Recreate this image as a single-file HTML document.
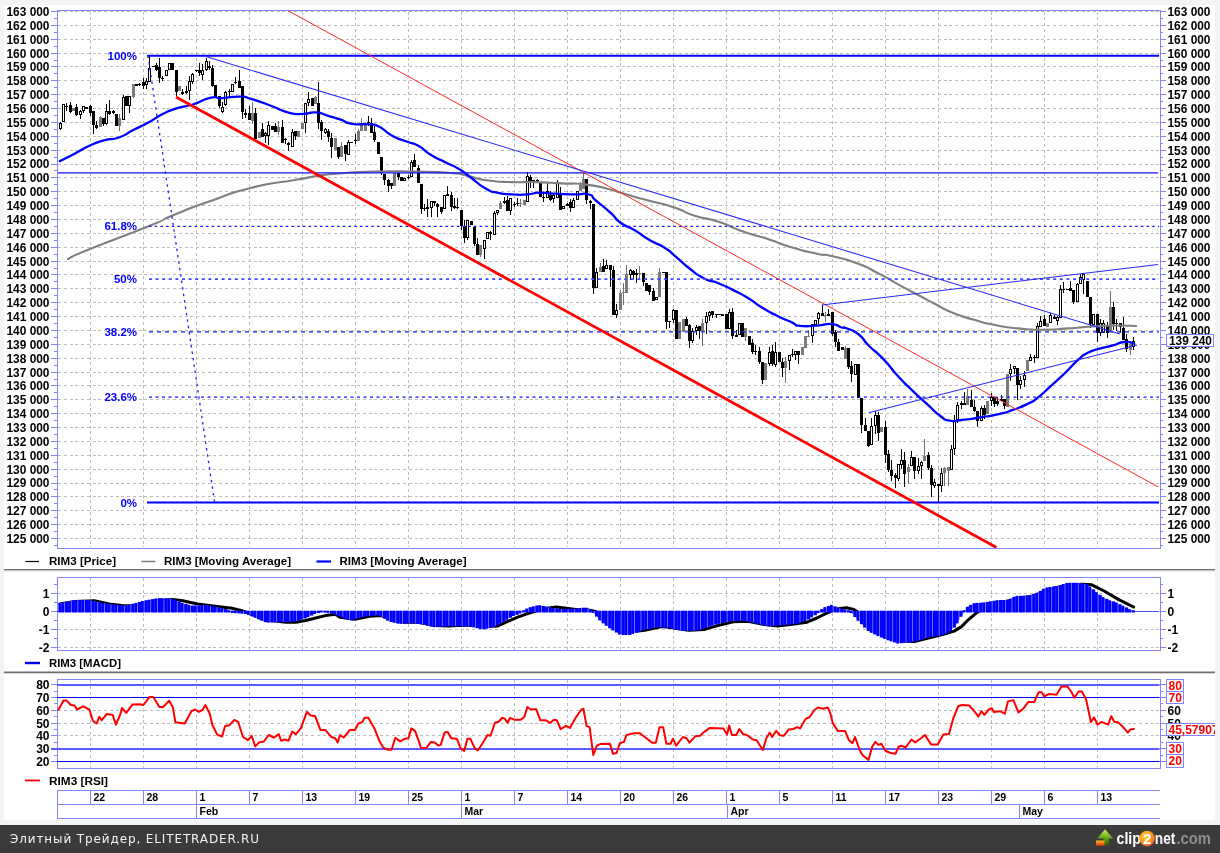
<!DOCTYPE html>
<html><head><meta charset="utf-8"><title>RIM3 chart</title><style>html,body{margin:0;padding:0;background:#f4f4f4;}body{width:1220px;height:853px;overflow:hidden}</style></head><body>
<svg width="1220" height="853" viewBox="0 0 1220 853" style="display:block">
<rect x="0" y="0" width="1220" height="853" fill="#f4f4f4"/>
<rect x="4" y="5" width="1211" height="815" fill="#ffffff"/>
<g shape-rendering="crispEdges" stroke="#bebebe" stroke-width="1" stroke-dasharray="3 2.75" fill="none">
<path d="M58 538.5H1159.5"/>
<path d="M58 524.5H1159.5"/>
<path d="M58 510.5H1159.5"/>
<path d="M58 496.5H1159.5"/>
<path d="M58 483.5H1159.5"/>
<path d="M58 469.5H1159.5"/>
<path d="M58 455.5H1159.5"/>
<path d="M58 441.5H1159.5"/>
<path d="M58 427.5H1159.5"/>
<path d="M58 413.5H1159.5"/>
<path d="M58 399.5H1159.5"/>
<path d="M58 385.5H1159.5"/>
<path d="M58 372.5H1159.5"/>
<path d="M58 358.5H1159.5"/>
<path d="M58 344.5H1159.5"/>
<path d="M58 330.5H1159.5"/>
<path d="M58 316.5H1159.5"/>
<path d="M58 302.5H1159.5"/>
<path d="M58 288.5H1159.5"/>
<path d="M58 274.5H1159.5"/>
<path d="M58 261.5H1159.5"/>
<path d="M58 247.5H1159.5"/>
<path d="M58 233.5H1159.5"/>
<path d="M58 219.5H1159.5"/>
<path d="M58 205.5H1159.5"/>
<path d="M58 191.5H1159.5"/>
<path d="M58 177.5H1159.5"/>
<path d="M58 164.5H1159.5"/>
<path d="M58 150.5H1159.5"/>
<path d="M58 136.5H1159.5"/>
<path d="M58 122.5H1159.5"/>
<path d="M58 108.5H1159.5"/>
<path d="M58 94.5H1159.5"/>
<path d="M58 80.5H1159.5"/>
<path d="M58 66.5H1159.5"/>
<path d="M58 53.5H1159.5"/>
<path d="M58 39.5H1159.5"/>
<path d="M58 25.5H1159.5"/>
<path d="M58 11.5H1159.5"/>
<path d="M90.5 11.66V547"/>
<path d="M90.5 578V650"/>
<path d="M90.5 680V768"/>
<path d="M143.5 11.66V547"/>
<path d="M143.5 578V650"/>
<path d="M143.5 680V768"/>
<path d="M196.5 11.66V547"/>
<path d="M196.5 578V650"/>
<path d="M196.5 680V768"/>
<path d="M249.5 11.66V547"/>
<path d="M249.5 578V650"/>
<path d="M249.5 680V768"/>
<path d="M302.5 11.66V547"/>
<path d="M302.5 578V650"/>
<path d="M302.5 680V768"/>
<path d="M355.5 11.66V547"/>
<path d="M355.5 578V650"/>
<path d="M355.5 680V768"/>
<path d="M408.5 11.66V547"/>
<path d="M408.5 578V650"/>
<path d="M408.5 680V768"/>
<path d="M461.5 11.66V547"/>
<path d="M461.5 578V650"/>
<path d="M461.5 680V768"/>
<path d="M514.5 11.66V547"/>
<path d="M514.5 578V650"/>
<path d="M514.5 680V768"/>
<path d="M567.5 11.66V547"/>
<path d="M567.5 578V650"/>
<path d="M567.5 680V768"/>
<path d="M620.5 11.66V547"/>
<path d="M620.5 578V650"/>
<path d="M620.5 680V768"/>
<path d="M673.5 11.66V547"/>
<path d="M673.5 578V650"/>
<path d="M673.5 680V768"/>
<path d="M726.5 11.66V547"/>
<path d="M726.5 578V650"/>
<path d="M726.5 680V768"/>
<path d="M779.5 11.66V547"/>
<path d="M779.5 578V650"/>
<path d="M779.5 680V768"/>
<path d="M832.5 11.66V547"/>
<path d="M832.5 578V650"/>
<path d="M832.5 680V768"/>
<path d="M885.5 11.66V547"/>
<path d="M885.5 578V650"/>
<path d="M885.5 680V768"/>
<path d="M938.5 11.66V547"/>
<path d="M938.5 578V650"/>
<path d="M938.5 680V768"/>
<path d="M991.5 11.66V547"/>
<path d="M991.5 578V650"/>
<path d="M991.5 680V768"/>
<path d="M1044.5 11.66V547"/>
<path d="M1044.5 578V650"/>
<path d="M1044.5 680V768"/>
<path d="M1097.5 11.66V547"/>
<path d="M1097.5 578V650"/>
<path d="M1097.5 680V768"/>
<path d="M58 593.5H1159.5"/>
<path d="M58 629.5H1159.5"/>
<path d="M58 647.5H1159.5"/>
<path d="M58 710.5H1159.5"/>
<path d="M58 723.5H1159.5"/>
<path d="M58 735.5H1159.5"/>
</g>
<g shape-rendering="crispEdges">
<rect x="60" y="122" width="1" height="8" fill="#000"/>
<rect x="59" y="123" width="3" height="6" fill="#000"/>
<rect x="60" y="124" width="1" height="4" fill="#fff"/>
<rect x="63" y="104" width="1" height="18" fill="#000"/>
<rect x="62" y="104" width="3" height="18" fill="#000"/>
<rect x="63" y="105" width="1" height="16" fill="#fff"/>
<rect x="66" y="103" width="1" height="8" fill="#000"/>
<rect x="65" y="106" width="3" height="1" fill="#000"/>
<rect x="70" y="102" width="1" height="11" fill="#000"/>
<rect x="69" y="105" width="3" height="7" fill="#000"/>
<rect x="73" y="108" width="1" height="3" fill="#707070"/>
<rect x="72" y="108" width="3" height="3" fill="#7a7a7a"/>
<rect x="76" y="104" width="1" height="12" fill="#000"/>
<rect x="75" y="107" width="3" height="8" fill="#000"/>
<rect x="80" y="110" width="1" height="9" fill="#000"/>
<rect x="79" y="111" width="3" height="4" fill="#000"/>
<rect x="80" y="112" width="1" height="2" fill="#fff"/>
<rect x="83" y="106" width="1" height="7" fill="#000"/>
<rect x="82" y="106" width="3" height="5" fill="#000"/>
<rect x="83" y="107" width="1" height="3" fill="#fff"/>
<rect x="86" y="107" width="1" height="2" fill="#000"/>
<rect x="85" y="107" width="3" height="2" fill="#000"/>
<rect x="90" y="105" width="1" height="11" fill="#000"/>
<rect x="89" y="106" width="3" height="7" fill="#000"/>
<rect x="93" y="111" width="1" height="23" fill="#000"/>
<rect x="92" y="111" width="3" height="14" fill="#000"/>
<rect x="96" y="121" width="1" height="8" fill="#000"/>
<rect x="95" y="125" width="3" height="3" fill="#000"/>
<rect x="100" y="116" width="1" height="11" fill="#707070"/>
<rect x="99" y="117" width="3" height="10" fill="#7a7a7a"/>
<rect x="103" y="118" width="1" height="8" fill="#000"/>
<rect x="102" y="118" width="3" height="6" fill="#000"/>
<rect x="106" y="104" width="1" height="21" fill="#000"/>
<rect x="105" y="111" width="3" height="13" fill="#000"/>
<rect x="106" y="112" width="1" height="11" fill="#fff"/>
<rect x="109" y="100" width="1" height="15" fill="#000"/>
<rect x="108" y="111" width="3" height="3" fill="#000"/>
<rect x="113" y="110" width="1" height="4" fill="#000"/>
<rect x="112" y="111" width="3" height="2" fill="#000"/>
<rect x="116" y="114" width="1" height="12" fill="#000"/>
<rect x="115" y="114" width="3" height="12" fill="#000"/>
<rect x="119" y="114" width="1" height="17" fill="#707070"/>
<rect x="118" y="118" width="3" height="8" fill="#7a7a7a"/>
<rect x="123" y="95" width="1" height="25" fill="#000"/>
<rect x="122" y="97" width="3" height="23" fill="#000"/>
<rect x="123" y="98" width="1" height="21" fill="#fff"/>
<rect x="126" y="96" width="1" height="10" fill="#000"/>
<rect x="125" y="96" width="3" height="10" fill="#000"/>
<rect x="129" y="96" width="1" height="17" fill="#000"/>
<rect x="128" y="96" width="3" height="10" fill="#000"/>
<rect x="129" y="97" width="1" height="8" fill="#fff"/>
<rect x="133" y="84" width="1" height="14" fill="#707070"/>
<rect x="132" y="84" width="3" height="13" fill="#7a7a7a"/>
<rect x="136" y="84" width="1" height="2" fill="#000"/>
<rect x="135" y="84" width="3" height="2" fill="#000"/>
<rect x="139" y="83" width="1" height="3" fill="#000"/>
<rect x="138" y="84" width="3" height="1" fill="#000"/>
<rect x="143" y="78" width="1" height="11" fill="#000"/>
<rect x="142" y="82" width="3" height="4" fill="#000"/>
<rect x="146" y="78" width="1" height="11" fill="#000"/>
<rect x="145" y="81" width="3" height="4" fill="#000"/>
<rect x="146" y="82" width="1" height="2" fill="#fff"/>
<rect x="149" y="56" width="1" height="26" fill="#000"/>
<rect x="148" y="68" width="3" height="14" fill="#000"/>
<rect x="149" y="69" width="1" height="12" fill="#fff"/>
<rect x="153" y="66" width="1" height="1" fill="#000"/>
<rect x="152" y="66" width="3" height="1" fill="#000"/>
<rect x="156" y="63" width="1" height="8" fill="#000"/>
<rect x="155" y="65" width="3" height="5" fill="#000"/>
<rect x="159" y="58" width="1" height="25" fill="#000"/>
<rect x="158" y="67" width="3" height="11" fill="#000"/>
<rect x="162" y="76" width="1" height="5" fill="#000"/>
<rect x="161" y="78" width="3" height="1" fill="#000"/>
<rect x="166" y="70" width="1" height="6" fill="#000"/>
<rect x="165" y="70" width="3" height="6" fill="#000"/>
<rect x="166" y="71" width="1" height="4" fill="#fff"/>
<rect x="169" y="63" width="1" height="7" fill="#000"/>
<rect x="168" y="63" width="3" height="7" fill="#000"/>
<rect x="169" y="64" width="1" height="5" fill="#fff"/>
<rect x="172" y="63" width="1" height="7" fill="#000"/>
<rect x="171" y="63" width="3" height="7" fill="#000"/>
<rect x="176" y="70" width="1" height="26" fill="#000"/>
<rect x="175" y="70" width="3" height="22" fill="#000"/>
<rect x="179" y="86" width="1" height="5" fill="#707070"/>
<rect x="178" y="86" width="3" height="5" fill="#7a7a7a"/>
<rect x="182" y="89" width="1" height="6" fill="#000"/>
<rect x="181" y="92" width="3" height="2" fill="#000"/>
<rect x="186" y="86" width="1" height="8" fill="#000"/>
<rect x="185" y="91" width="3" height="2" fill="#000"/>
<rect x="189" y="76" width="1" height="24" fill="#000"/>
<rect x="188" y="81" width="3" height="10" fill="#000"/>
<rect x="189" y="82" width="1" height="8" fill="#fff"/>
<rect x="192" y="73" width="1" height="11" fill="#000"/>
<rect x="191" y="74" width="3" height="8" fill="#000"/>
<rect x="192" y="75" width="1" height="6" fill="#fff"/>
<rect x="196" y="70" width="1" height="2" fill="#000"/>
<rect x="195" y="70" width="3" height="1" fill="#000"/>
<rect x="199" y="63" width="1" height="13" fill="#000"/>
<rect x="198" y="70" width="3" height="3" fill="#000"/>
<rect x="202" y="64" width="1" height="16" fill="#000"/>
<rect x="201" y="70" width="3" height="5" fill="#000"/>
<rect x="202" y="71" width="1" height="3" fill="#fff"/>
<rect x="206" y="58" width="1" height="13" fill="#000"/>
<rect x="205" y="61" width="3" height="9" fill="#000"/>
<rect x="206" y="62" width="1" height="7" fill="#fff"/>
<rect x="209" y="61" width="1" height="9" fill="#000"/>
<rect x="208" y="66" width="3" height="2" fill="#000"/>
<rect x="212" y="65" width="1" height="22" fill="#000"/>
<rect x="211" y="68" width="3" height="18" fill="#000"/>
<rect x="215" y="85" width="1" height="12" fill="#000"/>
<rect x="214" y="85" width="3" height="12" fill="#000"/>
<rect x="219" y="96" width="1" height="12" fill="#000"/>
<rect x="218" y="96" width="3" height="10" fill="#000"/>
<rect x="222" y="102" width="1" height="11" fill="#000"/>
<rect x="221" y="107" width="3" height="5" fill="#000"/>
<rect x="222" y="108" width="1" height="3" fill="#fff"/>
<rect x="225" y="91" width="1" height="15" fill="#000"/>
<rect x="224" y="92" width="3" height="13" fill="#000"/>
<rect x="225" y="93" width="1" height="11" fill="#fff"/>
<rect x="229" y="89" width="1" height="8" fill="#000"/>
<rect x="228" y="91" width="3" height="1" fill="#000"/>
<rect x="232" y="84" width="1" height="8" fill="#000"/>
<rect x="231" y="84" width="3" height="8" fill="#000"/>
<rect x="232" y="85" width="1" height="6" fill="#fff"/>
<rect x="235" y="77" width="1" height="7" fill="#000"/>
<rect x="234" y="82" width="3" height="1" fill="#000"/>
<rect x="239" y="70" width="1" height="18" fill="#000"/>
<rect x="238" y="81" width="3" height="7" fill="#000"/>
<rect x="242" y="86" width="1" height="33" fill="#000"/>
<rect x="241" y="86" width="3" height="26" fill="#000"/>
<rect x="245" y="109" width="1" height="9" fill="#000"/>
<rect x="244" y="113" width="3" height="2" fill="#000"/>
<rect x="249" y="106" width="1" height="14" fill="#000"/>
<rect x="248" y="113" width="3" height="7" fill="#000"/>
<rect x="252" y="102" width="1" height="22" fill="#707070"/>
<rect x="251" y="113" width="3" height="8" fill="#7a7a7a"/>
<rect x="255" y="108" width="1" height="31" fill="#000"/>
<rect x="254" y="113" width="3" height="26" fill="#000"/>
<rect x="259" y="132" width="1" height="6" fill="#707070"/>
<rect x="258" y="132" width="3" height="6" fill="#7a7a7a"/>
<rect x="262" y="123" width="1" height="14" fill="#000"/>
<rect x="261" y="129" width="3" height="8" fill="#000"/>
<rect x="265" y="132" width="1" height="11" fill="#000"/>
<rect x="264" y="133" width="3" height="3" fill="#000"/>
<rect x="265" y="134" width="1" height="1" fill="#fff"/>
<rect x="268" y="121" width="1" height="24" fill="#000"/>
<rect x="267" y="125" width="3" height="11" fill="#000"/>
<rect x="268" y="126" width="1" height="9" fill="#fff"/>
<rect x="272" y="126" width="1" height="4" fill="#000"/>
<rect x="271" y="126" width="3" height="4" fill="#000"/>
<rect x="275" y="123" width="1" height="9" fill="#000"/>
<rect x="274" y="126" width="3" height="6" fill="#000"/>
<rect x="278" y="121" width="1" height="14" fill="#707070"/>
<rect x="277" y="127" width="3" height="5" fill="#7a7a7a"/>
<rect x="282" y="120" width="1" height="23" fill="#000"/>
<rect x="281" y="127" width="3" height="16" fill="#000"/>
<rect x="285" y="138" width="1" height="6" fill="#000"/>
<rect x="284" y="139" width="3" height="1" fill="#000"/>
<rect x="288" y="142" width="1" height="9" fill="#000"/>
<rect x="287" y="143" width="3" height="2" fill="#000"/>
<rect x="292" y="129" width="1" height="18" fill="#000"/>
<rect x="291" y="132" width="3" height="15" fill="#000"/>
<rect x="292" y="133" width="1" height="13" fill="#fff"/>
<rect x="295" y="131" width="1" height="9" fill="#000"/>
<rect x="294" y="131" width="3" height="5" fill="#000"/>
<rect x="298" y="131" width="1" height="6" fill="#707070"/>
<rect x="297" y="131" width="3" height="6" fill="#7a7a7a"/>
<rect x="302" y="123" width="1" height="6" fill="#707070"/>
<rect x="301" y="123" width="3" height="6" fill="#7a7a7a"/>
<rect x="305" y="103" width="1" height="30" fill="#000"/>
<rect x="304" y="103" width="3" height="20" fill="#000"/>
<rect x="305" y="104" width="1" height="18" fill="#fff"/>
<rect x="308" y="92" width="1" height="14" fill="#000"/>
<rect x="307" y="99" width="3" height="4" fill="#000"/>
<rect x="308" y="100" width="1" height="2" fill="#fff"/>
<rect x="312" y="98" width="1" height="8" fill="#000"/>
<rect x="311" y="98" width="3" height="8" fill="#000"/>
<rect x="315" y="96" width="1" height="8" fill="#707070"/>
<rect x="314" y="97" width="3" height="7" fill="#7a7a7a"/>
<rect x="318" y="82" width="1" height="47" fill="#000"/>
<rect x="317" y="103" width="3" height="20" fill="#000"/>
<rect x="321" y="120" width="1" height="20" fill="#000"/>
<rect x="320" y="122" width="3" height="9" fill="#000"/>
<rect x="325" y="128" width="1" height="6" fill="#000"/>
<rect x="324" y="129" width="3" height="4" fill="#000"/>
<rect x="325" y="130" width="1" height="2" fill="#fff"/>
<rect x="328" y="129" width="1" height="13" fill="#000"/>
<rect x="327" y="131" width="3" height="6" fill="#000"/>
<rect x="331" y="133" width="1" height="25" fill="#000"/>
<rect x="330" y="138" width="3" height="9" fill="#000"/>
<rect x="335" y="138" width="1" height="12" fill="#707070"/>
<rect x="334" y="138" width="3" height="12" fill="#7a7a7a"/>
<rect x="338" y="147" width="1" height="12" fill="#000"/>
<rect x="337" y="147" width="3" height="10" fill="#000"/>
<rect x="341" y="142" width="1" height="15" fill="#707070"/>
<rect x="340" y="146" width="3" height="11" fill="#7a7a7a"/>
<rect x="345" y="145" width="1" height="16" fill="#000"/>
<rect x="344" y="145" width="3" height="9" fill="#000"/>
<rect x="348" y="140" width="1" height="15" fill="#000"/>
<rect x="347" y="142" width="3" height="13" fill="#000"/>
<rect x="348" y="143" width="1" height="11" fill="#fff"/>
<rect x="351" y="142" width="1" height="1" fill="#000"/>
<rect x="350" y="142" width="3" height="1" fill="#000"/>
<rect x="355" y="134" width="1" height="10" fill="#000"/>
<rect x="354" y="140" width="3" height="1" fill="#000"/>
<rect x="358" y="129" width="1" height="12" fill="#707070"/>
<rect x="357" y="131" width="3" height="10" fill="#7a7a7a"/>
<rect x="361" y="118" width="1" height="13" fill="#707070"/>
<rect x="360" y="123" width="3" height="8" fill="#7a7a7a"/>
<rect x="365" y="123" width="1" height="8" fill="#707070"/>
<rect x="364" y="123" width="3" height="8" fill="#7a7a7a"/>
<rect x="368" y="116" width="1" height="10" fill="#000"/>
<rect x="367" y="122" width="3" height="1" fill="#000"/>
<rect x="371" y="118" width="1" height="15" fill="#000"/>
<rect x="370" y="123" width="3" height="10" fill="#000"/>
<rect x="374" y="126" width="1" height="16" fill="#000"/>
<rect x="373" y="132" width="3" height="8" fill="#000"/>
<rect x="378" y="142" width="1" height="12" fill="#000"/>
<rect x="377" y="142" width="3" height="12" fill="#000"/>
<rect x="381" y="157" width="1" height="18" fill="#000"/>
<rect x="380" y="157" width="3" height="16" fill="#000"/>
<rect x="384" y="174" width="1" height="11" fill="#000"/>
<rect x="383" y="174" width="3" height="6" fill="#000"/>
<rect x="388" y="179" width="1" height="13" fill="#000"/>
<rect x="387" y="180" width="3" height="6" fill="#000"/>
<rect x="391" y="183" width="1" height="6" fill="#000"/>
<rect x="390" y="183" width="3" height="3" fill="#000"/>
<rect x="394" y="173" width="1" height="13" fill="#707070"/>
<rect x="393" y="173" width="3" height="13" fill="#7a7a7a"/>
<rect x="398" y="173" width="1" height="7" fill="#000"/>
<rect x="397" y="173" width="3" height="4" fill="#000"/>
<rect x="401" y="177" width="1" height="4" fill="#000"/>
<rect x="400" y="177" width="3" height="4" fill="#000"/>
<rect x="404" y="178" width="1" height="3" fill="#000"/>
<rect x="403" y="178" width="3" height="3" fill="#000"/>
<rect x="404" y="179" width="1" height="1" fill="#fff"/>
<rect x="408" y="175" width="1" height="4" fill="#000"/>
<rect x="407" y="177" width="3" height="1" fill="#000"/>
<rect x="411" y="160" width="1" height="17" fill="#000"/>
<rect x="410" y="162" width="3" height="15" fill="#000"/>
<rect x="411" y="163" width="1" height="13" fill="#fff"/>
<rect x="414" y="154" width="1" height="13" fill="#000"/>
<rect x="413" y="160" width="3" height="7" fill="#000"/>
<rect x="418" y="165" width="1" height="18" fill="#000"/>
<rect x="417" y="168" width="3" height="15" fill="#000"/>
<rect x="421" y="184" width="1" height="30" fill="#000"/>
<rect x="420" y="184" width="3" height="25" fill="#000"/>
<rect x="424" y="204" width="1" height="7" fill="#000"/>
<rect x="423" y="208" width="3" height="1" fill="#000"/>
<rect x="427" y="199" width="1" height="18" fill="#000"/>
<rect x="426" y="207" width="3" height="2" fill="#000"/>
<rect x="431" y="201" width="1" height="16" fill="#000"/>
<rect x="430" y="201" width="3" height="7" fill="#000"/>
<rect x="431" y="202" width="1" height="5" fill="#fff"/>
<rect x="434" y="201" width="1" height="5" fill="#000"/>
<rect x="433" y="201" width="3" height="2" fill="#000"/>
<rect x="437" y="203" width="1" height="14" fill="#000"/>
<rect x="436" y="204" width="3" height="3" fill="#000"/>
<rect x="441" y="207" width="1" height="7" fill="#000"/>
<rect x="440" y="207" width="3" height="5" fill="#000"/>
<rect x="444" y="195" width="1" height="14" fill="#000"/>
<rect x="443" y="195" width="3" height="14" fill="#000"/>
<rect x="444" y="196" width="1" height="12" fill="#fff"/>
<rect x="447" y="186" width="1" height="10" fill="#000"/>
<rect x="446" y="194" width="3" height="2" fill="#000"/>
<rect x="451" y="192" width="1" height="19" fill="#000"/>
<rect x="450" y="195" width="3" height="12" fill="#000"/>
<rect x="454" y="198" width="1" height="11" fill="#000"/>
<rect x="453" y="206" width="3" height="2" fill="#000"/>
<rect x="457" y="198" width="1" height="11" fill="#000"/>
<rect x="456" y="207" width="3" height="1" fill="#000"/>
<rect x="461" y="210" width="1" height="20" fill="#000"/>
<rect x="460" y="210" width="3" height="16" fill="#000"/>
<rect x="464" y="220" width="1" height="23" fill="#000"/>
<rect x="463" y="226" width="3" height="12" fill="#000"/>
<rect x="467" y="220" width="1" height="20" fill="#000"/>
<rect x="466" y="220" width="3" height="18" fill="#000"/>
<rect x="467" y="221" width="1" height="16" fill="#fff"/>
<rect x="471" y="221" width="1" height="4" fill="#000"/>
<rect x="470" y="221" width="3" height="4" fill="#000"/>
<rect x="474" y="227" width="1" height="19" fill="#000"/>
<rect x="473" y="227" width="3" height="17" fill="#000"/>
<rect x="477" y="238" width="1" height="17" fill="#000"/>
<rect x="476" y="244" width="3" height="11" fill="#000"/>
<rect x="480" y="245" width="1" height="12" fill="#707070"/>
<rect x="479" y="245" width="3" height="10" fill="#7a7a7a"/>
<rect x="484" y="240" width="1" height="19" fill="#000"/>
<rect x="483" y="240" width="3" height="9" fill="#000"/>
<rect x="484" y="241" width="1" height="7" fill="#fff"/>
<rect x="487" y="232" width="1" height="7" fill="#000"/>
<rect x="486" y="232" width="3" height="7" fill="#000"/>
<rect x="487" y="233" width="1" height="5" fill="#fff"/>
<rect x="490" y="231" width="1" height="9" fill="#000"/>
<rect x="489" y="232" width="3" height="2" fill="#000"/>
<rect x="494" y="211" width="1" height="24" fill="#000"/>
<rect x="493" y="213" width="3" height="22" fill="#000"/>
<rect x="494" y="214" width="1" height="20" fill="#fff"/>
<rect x="497" y="210" width="1" height="5" fill="#000"/>
<rect x="496" y="210" width="3" height="3" fill="#000"/>
<rect x="497" y="211" width="1" height="1" fill="#fff"/>
<rect x="500" y="201" width="1" height="8" fill="#707070"/>
<rect x="499" y="203" width="3" height="6" fill="#7a7a7a"/>
<rect x="504" y="197" width="1" height="7" fill="#000"/>
<rect x="503" y="201" width="3" height="2" fill="#000"/>
<rect x="507" y="196" width="1" height="15" fill="#000"/>
<rect x="506" y="200" width="3" height="11" fill="#000"/>
<rect x="510" y="198" width="1" height="17" fill="#000"/>
<rect x="509" y="198" width="3" height="13" fill="#000"/>
<rect x="510" y="199" width="1" height="11" fill="#fff"/>
<rect x="514" y="202" width="1" height="5" fill="#000"/>
<rect x="513" y="204" width="3" height="1" fill="#000"/>
<rect x="517" y="198" width="1" height="8" fill="#000"/>
<rect x="516" y="203" width="3" height="1" fill="#000"/>
<rect x="520" y="199" width="1" height="8" fill="#707070"/>
<rect x="519" y="203" width="3" height="1" fill="#7a7a7a"/>
<rect x="524" y="200" width="1" height="5" fill="#707070"/>
<rect x="523" y="200" width="3" height="5" fill="#7a7a7a"/>
<rect x="527" y="172" width="1" height="30" fill="#000"/>
<rect x="526" y="176" width="3" height="26" fill="#000"/>
<rect x="527" y="177" width="1" height="24" fill="#fff"/>
<rect x="530" y="175" width="1" height="13" fill="#000"/>
<rect x="529" y="177" width="3" height="5" fill="#000"/>
<rect x="533" y="180" width="1" height="8" fill="#000"/>
<rect x="532" y="180" width="3" height="2" fill="#000"/>
<rect x="537" y="179" width="1" height="3" fill="#000"/>
<rect x="536" y="180" width="3" height="2" fill="#000"/>
<rect x="540" y="182" width="1" height="15" fill="#000"/>
<rect x="539" y="182" width="3" height="15" fill="#000"/>
<rect x="543" y="193" width="1" height="9" fill="#000"/>
<rect x="542" y="197" width="3" height="1" fill="#000"/>
<rect x="547" y="183" width="1" height="15" fill="#000"/>
<rect x="546" y="191" width="3" height="7" fill="#000"/>
<rect x="547" y="192" width="1" height="5" fill="#fff"/>
<rect x="550" y="191" width="1" height="10" fill="#000"/>
<rect x="549" y="195" width="3" height="5" fill="#000"/>
<rect x="553" y="193" width="1" height="10" fill="#000"/>
<rect x="552" y="195" width="3" height="4" fill="#000"/>
<rect x="553" y="196" width="1" height="2" fill="#fff"/>
<rect x="557" y="180" width="1" height="18" fill="#000"/>
<rect x="556" y="183" width="3" height="15" fill="#000"/>
<rect x="557" y="184" width="1" height="13" fill="#fff"/>
<rect x="560" y="187" width="1" height="23" fill="#000"/>
<rect x="559" y="195" width="3" height="15" fill="#000"/>
<rect x="563" y="206" width="1" height="3" fill="#000"/>
<rect x="562" y="206" width="3" height="3" fill="#000"/>
<rect x="563" y="207" width="1" height="1" fill="#fff"/>
<rect x="567" y="203" width="1" height="3" fill="#000"/>
<rect x="566" y="204" width="3" height="2" fill="#000"/>
<rect x="570" y="199" width="1" height="13" fill="#000"/>
<rect x="569" y="202" width="3" height="6" fill="#000"/>
<rect x="573" y="198" width="1" height="10" fill="#000"/>
<rect x="572" y="200" width="3" height="8" fill="#000"/>
<rect x="573" y="201" width="1" height="6" fill="#fff"/>
<rect x="577" y="191" width="1" height="9" fill="#000"/>
<rect x="576" y="191" width="3" height="9" fill="#000"/>
<rect x="577" y="192" width="1" height="7" fill="#fff"/>
<rect x="580" y="182" width="1" height="9" fill="#707070"/>
<rect x="579" y="185" width="3" height="6" fill="#7a7a7a"/>
<rect x="583" y="173" width="1" height="16" fill="#707070"/>
<rect x="582" y="179" width="3" height="10" fill="#7a7a7a"/>
<rect x="586" y="179" width="1" height="25" fill="#000"/>
<rect x="585" y="179" width="3" height="21" fill="#000"/>
<rect x="590" y="200" width="1" height="9" fill="#000"/>
<rect x="589" y="201" width="3" height="2" fill="#000"/>
<rect x="593" y="204" width="1" height="90" fill="#000"/>
<rect x="592" y="204" width="3" height="84" fill="#000"/>
<rect x="596" y="268" width="1" height="20" fill="#000"/>
<rect x="595" y="272" width="3" height="16" fill="#000"/>
<rect x="596" y="273" width="1" height="14" fill="#fff"/>
<rect x="600" y="263" width="1" height="9" fill="#707070"/>
<rect x="599" y="267" width="3" height="5" fill="#7a7a7a"/>
<rect x="603" y="259" width="1" height="13" fill="#000"/>
<rect x="602" y="266" width="3" height="6" fill="#000"/>
<rect x="606" y="260" width="1" height="9" fill="#000"/>
<rect x="605" y="265" width="3" height="4" fill="#000"/>
<rect x="606" y="266" width="1" height="2" fill="#fff"/>
<rect x="610" y="265" width="1" height="22" fill="#000"/>
<rect x="609" y="265" width="3" height="5" fill="#000"/>
<rect x="613" y="266" width="1" height="49" fill="#000"/>
<rect x="612" y="270" width="3" height="45" fill="#000"/>
<rect x="616" y="304" width="1" height="14" fill="#000"/>
<rect x="615" y="310" width="3" height="5" fill="#000"/>
<rect x="616" y="311" width="1" height="3" fill="#fff"/>
<rect x="620" y="290" width="1" height="20" fill="#707070"/>
<rect x="619" y="293" width="3" height="17" fill="#7a7a7a"/>
<rect x="623" y="283" width="1" height="22" fill="#707070"/>
<rect x="622" y="292" width="3" height="1" fill="#7a7a7a"/>
<rect x="626" y="265" width="1" height="28" fill="#707070"/>
<rect x="625" y="274" width="3" height="19" fill="#7a7a7a"/>
<rect x="630" y="269" width="1" height="11" fill="#000"/>
<rect x="629" y="270" width="3" height="5" fill="#000"/>
<rect x="630" y="271" width="1" height="3" fill="#fff"/>
<rect x="633" y="270" width="1" height="9" fill="#000"/>
<rect x="632" y="271" width="3" height="4" fill="#000"/>
<rect x="636" y="269" width="1" height="14" fill="#000"/>
<rect x="635" y="273" width="3" height="2" fill="#000"/>
<rect x="639" y="266" width="1" height="14" fill="#707070"/>
<rect x="638" y="273" width="3" height="1" fill="#7a7a7a"/>
<rect x="643" y="273" width="1" height="13" fill="#000"/>
<rect x="642" y="273" width="3" height="9" fill="#000"/>
<rect x="646" y="283" width="1" height="8" fill="#000"/>
<rect x="645" y="283" width="3" height="8" fill="#000"/>
<rect x="649" y="285" width="1" height="10" fill="#000"/>
<rect x="648" y="285" width="3" height="7" fill="#000"/>
<rect x="653" y="288" width="1" height="13" fill="#000"/>
<rect x="652" y="291" width="3" height="10" fill="#000"/>
<rect x="656" y="297" width="1" height="3" fill="#000"/>
<rect x="655" y="297" width="3" height="3" fill="#000"/>
<rect x="656" y="298" width="1" height="1" fill="#fff"/>
<rect x="659" y="268" width="1" height="29" fill="#707070"/>
<rect x="658" y="272" width="3" height="25" fill="#7a7a7a"/>
<rect x="663" y="272" width="1" height="1" fill="#000"/>
<rect x="662" y="272" width="3" height="1" fill="#000"/>
<rect x="666" y="272" width="1" height="57" fill="#000"/>
<rect x="665" y="272" width="3" height="50" fill="#000"/>
<rect x="669" y="321" width="1" height="7" fill="#000"/>
<rect x="668" y="321" width="3" height="1" fill="#000"/>
<rect x="673" y="309" width="1" height="14" fill="#000"/>
<rect x="672" y="310" width="3" height="10" fill="#000"/>
<rect x="673" y="311" width="1" height="8" fill="#fff"/>
<rect x="676" y="310" width="1" height="29" fill="#000"/>
<rect x="675" y="310" width="3" height="29" fill="#000"/>
<rect x="679" y="322" width="1" height="17" fill="#707070"/>
<rect x="678" y="322" width="3" height="17" fill="#7a7a7a"/>
<rect x="683" y="319" width="1" height="13" fill="#707070"/>
<rect x="682" y="319" width="3" height="13" fill="#7a7a7a"/>
<rect x="686" y="317" width="1" height="9" fill="#000"/>
<rect x="685" y="319" width="3" height="7" fill="#000"/>
<rect x="689" y="324" width="1" height="24" fill="#000"/>
<rect x="688" y="325" width="3" height="16" fill="#000"/>
<rect x="692" y="328" width="1" height="15" fill="#000"/>
<rect x="691" y="331" width="3" height="10" fill="#000"/>
<rect x="692" y="332" width="1" height="8" fill="#fff"/>
<rect x="696" y="325" width="1" height="10" fill="#000"/>
<rect x="695" y="327" width="3" height="4" fill="#000"/>
<rect x="696" y="328" width="1" height="2" fill="#fff"/>
<rect x="699" y="326" width="1" height="13" fill="#000"/>
<rect x="698" y="326" width="3" height="5" fill="#000"/>
<rect x="702" y="319" width="1" height="27" fill="#707070"/>
<rect x="701" y="323" width="3" height="8" fill="#7a7a7a"/>
<rect x="706" y="312" width="1" height="22" fill="#000"/>
<rect x="705" y="316" width="3" height="7" fill="#000"/>
<rect x="706" y="317" width="1" height="5" fill="#fff"/>
<rect x="709" y="311" width="1" height="10" fill="#000"/>
<rect x="708" y="312" width="3" height="4" fill="#000"/>
<rect x="709" y="313" width="1" height="2" fill="#fff"/>
<rect x="712" y="311" width="1" height="7" fill="#000"/>
<rect x="711" y="311" width="3" height="4" fill="#000"/>
<rect x="716" y="314" width="1" height="4" fill="#000"/>
<rect x="715" y="314" width="3" height="1" fill="#000"/>
<rect x="719" y="314" width="1" height="1" fill="#000"/>
<rect x="718" y="314" width="3" height="1" fill="#000"/>
<rect x="722" y="314" width="1" height="2" fill="#000"/>
<rect x="721" y="314" width="3" height="2" fill="#000"/>
<rect x="726" y="314" width="1" height="15" fill="#000"/>
<rect x="725" y="314" width="3" height="15" fill="#000"/>
<rect x="729" y="309" width="1" height="20" fill="#000"/>
<rect x="728" y="312" width="3" height="17" fill="#000"/>
<rect x="729" y="313" width="1" height="15" fill="#fff"/>
<rect x="732" y="308" width="1" height="31" fill="#000"/>
<rect x="731" y="312" width="3" height="24" fill="#000"/>
<rect x="736" y="330" width="1" height="7" fill="#000"/>
<rect x="735" y="335" width="3" height="2" fill="#000"/>
<rect x="739" y="323" width="1" height="12" fill="#000"/>
<rect x="738" y="323" width="3" height="12" fill="#000"/>
<rect x="739" y="324" width="1" height="10" fill="#fff"/>
<rect x="742" y="323" width="1" height="14" fill="#000"/>
<rect x="741" y="323" width="3" height="14" fill="#000"/>
<rect x="745" y="328" width="1" height="13" fill="#707070"/>
<rect x="744" y="328" width="3" height="9" fill="#7a7a7a"/>
<rect x="749" y="336" width="1" height="9" fill="#000"/>
<rect x="748" y="336" width="3" height="9" fill="#000"/>
<rect x="752" y="339" width="1" height="15" fill="#000"/>
<rect x="751" y="343" width="3" height="9" fill="#000"/>
<rect x="755" y="345" width="1" height="10" fill="#000"/>
<rect x="754" y="351" width="3" height="1" fill="#000"/>
<rect x="759" y="347" width="1" height="17" fill="#000"/>
<rect x="758" y="351" width="3" height="11" fill="#000"/>
<rect x="762" y="362" width="1" height="22" fill="#000"/>
<rect x="761" y="362" width="3" height="18" fill="#000"/>
<rect x="765" y="363" width="1" height="17" fill="#707070"/>
<rect x="764" y="363" width="3" height="17" fill="#7a7a7a"/>
<rect x="769" y="347" width="1" height="19" fill="#000"/>
<rect x="768" y="352" width="3" height="12" fill="#000"/>
<rect x="769" y="353" width="1" height="10" fill="#fff"/>
<rect x="772" y="345" width="1" height="21" fill="#000"/>
<rect x="771" y="351" width="3" height="13" fill="#000"/>
<rect x="775" y="342" width="1" height="25" fill="#000"/>
<rect x="774" y="352" width="3" height="13" fill="#000"/>
<rect x="775" y="353" width="1" height="11" fill="#fff"/>
<rect x="779" y="352" width="1" height="10" fill="#000"/>
<rect x="778" y="352" width="3" height="10" fill="#000"/>
<rect x="782" y="358" width="1" height="19" fill="#000"/>
<rect x="781" y="362" width="3" height="6" fill="#000"/>
<rect x="785" y="357" width="1" height="26" fill="#707070"/>
<rect x="784" y="361" width="3" height="7" fill="#7a7a7a"/>
<rect x="789" y="355" width="1" height="15" fill="#000"/>
<rect x="788" y="355" width="3" height="6" fill="#000"/>
<rect x="789" y="356" width="1" height="4" fill="#fff"/>
<rect x="792" y="349" width="1" height="8" fill="#000"/>
<rect x="791" y="354" width="3" height="1" fill="#000"/>
<rect x="795" y="351" width="1" height="9" fill="#000"/>
<rect x="794" y="351" width="3" height="4" fill="#000"/>
<rect x="795" y="352" width="1" height="2" fill="#fff"/>
<rect x="798" y="351" width="1" height="13" fill="#000"/>
<rect x="797" y="351" width="3" height="4" fill="#000"/>
<rect x="802" y="347" width="1" height="8" fill="#707070"/>
<rect x="801" y="347" width="3" height="8" fill="#7a7a7a"/>
<rect x="805" y="336" width="1" height="12" fill="#707070"/>
<rect x="804" y="336" width="3" height="12" fill="#7a7a7a"/>
<rect x="808" y="330" width="1" height="7" fill="#707070"/>
<rect x="807" y="336" width="3" height="1" fill="#7a7a7a"/>
<rect x="812" y="324" width="1" height="19" fill="#000"/>
<rect x="811" y="324" width="3" height="12" fill="#000"/>
<rect x="812" y="325" width="1" height="10" fill="#fff"/>
<rect x="815" y="320" width="1" height="5" fill="#000"/>
<rect x="814" y="320" width="3" height="5" fill="#000"/>
<rect x="815" y="321" width="1" height="3" fill="#fff"/>
<rect x="818" y="312" width="1" height="12" fill="#000"/>
<rect x="817" y="313" width="3" height="6" fill="#000"/>
<rect x="818" y="314" width="1" height="4" fill="#fff"/>
<rect x="822" y="305" width="1" height="11" fill="#000"/>
<rect x="821" y="313" width="3" height="3" fill="#000"/>
<rect x="825" y="312" width="1" height="10" fill="#707070"/>
<rect x="824" y="315" width="3" height="1" fill="#7a7a7a"/>
<rect x="828" y="309" width="1" height="7" fill="#000"/>
<rect x="827" y="314" width="3" height="2" fill="#000"/>
<rect x="832" y="312" width="1" height="24" fill="#000"/>
<rect x="831" y="312" width="3" height="22" fill="#000"/>
<rect x="835" y="330" width="1" height="17" fill="#000"/>
<rect x="834" y="332" width="3" height="10" fill="#000"/>
<rect x="838" y="339" width="1" height="12" fill="#000"/>
<rect x="837" y="342" width="3" height="9" fill="#000"/>
<rect x="842" y="347" width="1" height="3" fill="#000"/>
<rect x="841" y="347" width="3" height="3" fill="#000"/>
<rect x="845" y="346" width="1" height="13" fill="#707070"/>
<rect x="844" y="348" width="3" height="11" fill="#7a7a7a"/>
<rect x="848" y="348" width="1" height="21" fill="#000"/>
<rect x="847" y="348" width="3" height="19" fill="#000"/>
<rect x="851" y="361" width="1" height="21" fill="#000"/>
<rect x="850" y="366" width="3" height="8" fill="#000"/>
<rect x="855" y="364" width="1" height="11" fill="#000"/>
<rect x="854" y="364" width="3" height="11" fill="#000"/>
<rect x="855" y="365" width="1" height="9" fill="#fff"/>
<rect x="858" y="364" width="1" height="34" fill="#000"/>
<rect x="857" y="364" width="3" height="34" fill="#000"/>
<rect x="861" y="398" width="1" height="35" fill="#000"/>
<rect x="860" y="398" width="3" height="27" fill="#000"/>
<rect x="865" y="418" width="1" height="13" fill="#000"/>
<rect x="864" y="425" width="3" height="6" fill="#000"/>
<rect x="868" y="431" width="1" height="16" fill="#000"/>
<rect x="867" y="431" width="3" height="15" fill="#000"/>
<rect x="871" y="418" width="1" height="27" fill="#000"/>
<rect x="870" y="426" width="3" height="19" fill="#000"/>
<rect x="871" y="427" width="1" height="17" fill="#fff"/>
<rect x="875" y="411" width="1" height="23" fill="#000"/>
<rect x="874" y="415" width="3" height="11" fill="#000"/>
<rect x="875" y="416" width="1" height="9" fill="#fff"/>
<rect x="878" y="412" width="1" height="29" fill="#000"/>
<rect x="877" y="415" width="3" height="18" fill="#000"/>
<rect x="881" y="427" width="1" height="5" fill="#707070"/>
<rect x="880" y="427" width="3" height="5" fill="#7a7a7a"/>
<rect x="885" y="421" width="1" height="42" fill="#000"/>
<rect x="884" y="427" width="3" height="28" fill="#000"/>
<rect x="888" y="450" width="1" height="22" fill="#000"/>
<rect x="887" y="454" width="3" height="16" fill="#000"/>
<rect x="891" y="460" width="1" height="21" fill="#000"/>
<rect x="890" y="470" width="3" height="6" fill="#000"/>
<rect x="895" y="473" width="1" height="15" fill="#000"/>
<rect x="894" y="475" width="3" height="3" fill="#000"/>
<rect x="898" y="464" width="1" height="17" fill="#000"/>
<rect x="897" y="464" width="3" height="15" fill="#000"/>
<rect x="898" y="465" width="1" height="13" fill="#fff"/>
<rect x="901" y="449" width="1" height="20" fill="#000"/>
<rect x="900" y="460" width="3" height="5" fill="#000"/>
<rect x="901" y="461" width="1" height="3" fill="#fff"/>
<rect x="904" y="452" width="1" height="35" fill="#000"/>
<rect x="903" y="460" width="3" height="14" fill="#000"/>
<rect x="908" y="464" width="1" height="20" fill="#707070"/>
<rect x="907" y="467" width="3" height="5" fill="#7a7a7a"/>
<rect x="911" y="451" width="1" height="15" fill="#000"/>
<rect x="910" y="457" width="3" height="9" fill="#000"/>
<rect x="911" y="458" width="1" height="7" fill="#fff"/>
<rect x="914" y="457" width="1" height="22" fill="#000"/>
<rect x="913" y="457" width="3" height="14" fill="#000"/>
<rect x="918" y="458" width="1" height="16" fill="#000"/>
<rect x="917" y="466" width="3" height="5" fill="#000"/>
<rect x="918" y="467" width="1" height="3" fill="#fff"/>
<rect x="921" y="461" width="1" height="18" fill="#000"/>
<rect x="920" y="462" width="3" height="4" fill="#000"/>
<rect x="921" y="463" width="1" height="2" fill="#fff"/>
<rect x="924" y="439" width="1" height="22" fill="#707070"/>
<rect x="923" y="456" width="3" height="5" fill="#7a7a7a"/>
<rect x="928" y="452" width="1" height="18" fill="#000"/>
<rect x="927" y="455" width="3" height="13" fill="#000"/>
<rect x="931" y="465" width="1" height="32" fill="#000"/>
<rect x="930" y="468" width="3" height="17" fill="#000"/>
<rect x="934" y="479" width="1" height="9" fill="#000"/>
<rect x="933" y="482" width="3" height="4" fill="#000"/>
<rect x="934" y="483" width="1" height="2" fill="#fff"/>
<rect x="938" y="484" width="1" height="18" fill="#000"/>
<rect x="937" y="484" width="3" height="2" fill="#000"/>
<rect x="941" y="468" width="1" height="24" fill="#000"/>
<rect x="940" y="473" width="3" height="13" fill="#000"/>
<rect x="941" y="474" width="1" height="11" fill="#fff"/>
<rect x="944" y="467" width="1" height="19" fill="#707070"/>
<rect x="943" y="468" width="3" height="5" fill="#7a7a7a"/>
<rect x="948" y="467" width="1" height="19" fill="#707070"/>
<rect x="947" y="467" width="3" height="4" fill="#7a7a7a"/>
<rect x="951" y="445" width="1" height="25" fill="#000"/>
<rect x="950" y="449" width="3" height="21" fill="#000"/>
<rect x="951" y="450" width="1" height="19" fill="#fff"/>
<rect x="954" y="415" width="1" height="40" fill="#000"/>
<rect x="953" y="420" width="3" height="29" fill="#000"/>
<rect x="954" y="421" width="1" height="27" fill="#fff"/>
<rect x="957" y="402" width="1" height="21" fill="#000"/>
<rect x="956" y="405" width="3" height="15" fill="#000"/>
<rect x="957" y="406" width="1" height="13" fill="#fff"/>
<rect x="961" y="401" width="1" height="8" fill="#000"/>
<rect x="960" y="403" width="3" height="2" fill="#000"/>
<rect x="964" y="392" width="1" height="13" fill="#000"/>
<rect x="963" y="403" width="3" height="2" fill="#000"/>
<rect x="967" y="389" width="1" height="16" fill="#707070"/>
<rect x="966" y="396" width="3" height="9" fill="#7a7a7a"/>
<rect x="971" y="390" width="1" height="17" fill="#000"/>
<rect x="970" y="400" width="3" height="7" fill="#000"/>
<rect x="974" y="400" width="1" height="12" fill="#000"/>
<rect x="973" y="407" width="3" height="4" fill="#000"/>
<rect x="977" y="411" width="1" height="16" fill="#000"/>
<rect x="976" y="411" width="3" height="10" fill="#000"/>
<rect x="981" y="406" width="1" height="15" fill="#000"/>
<rect x="980" y="408" width="3" height="13" fill="#000"/>
<rect x="981" y="409" width="1" height="11" fill="#fff"/>
<rect x="984" y="405" width="1" height="14" fill="#000"/>
<rect x="983" y="408" width="3" height="7" fill="#000"/>
<rect x="987" y="401" width="1" height="13" fill="#707070"/>
<rect x="986" y="401" width="3" height="13" fill="#7a7a7a"/>
<rect x="991" y="393" width="1" height="13" fill="#000"/>
<rect x="990" y="397" width="3" height="4" fill="#000"/>
<rect x="991" y="398" width="1" height="2" fill="#fff"/>
<rect x="994" y="397" width="1" height="10" fill="#000"/>
<rect x="993" y="397" width="3" height="7" fill="#000"/>
<rect x="997" y="397" width="1" height="9" fill="#000"/>
<rect x="996" y="401" width="3" height="3" fill="#000"/>
<rect x="1001" y="395" width="1" height="6" fill="#000"/>
<rect x="1000" y="399" width="3" height="2" fill="#000"/>
<rect x="1004" y="399" width="1" height="10" fill="#000"/>
<rect x="1003" y="399" width="3" height="7" fill="#000"/>
<rect x="1007" y="374" width="1" height="33" fill="#707070"/>
<rect x="1006" y="374" width="3" height="33" fill="#7a7a7a"/>
<rect x="1010" y="364" width="1" height="17" fill="#000"/>
<rect x="1009" y="369" width="3" height="5" fill="#000"/>
<rect x="1010" y="370" width="1" height="3" fill="#fff"/>
<rect x="1014" y="366" width="1" height="8" fill="#000"/>
<rect x="1013" y="366" width="3" height="3" fill="#000"/>
<rect x="1014" y="367" width="1" height="1" fill="#fff"/>
<rect x="1017" y="368" width="1" height="32" fill="#000"/>
<rect x="1016" y="368" width="3" height="17" fill="#000"/>
<rect x="1020" y="376" width="1" height="13" fill="#000"/>
<rect x="1019" y="380" width="3" height="5" fill="#000"/>
<rect x="1020" y="381" width="1" height="3" fill="#fff"/>
<rect x="1024" y="371" width="1" height="16" fill="#000"/>
<rect x="1023" y="375" width="3" height="5" fill="#000"/>
<rect x="1024" y="376" width="1" height="3" fill="#fff"/>
<rect x="1027" y="360" width="1" height="11" fill="#707070"/>
<rect x="1026" y="360" width="3" height="11" fill="#7a7a7a"/>
<rect x="1030" y="354" width="1" height="7" fill="#000"/>
<rect x="1029" y="357" width="3" height="4" fill="#000"/>
<rect x="1030" y="358" width="1" height="2" fill="#fff"/>
<rect x="1034" y="355" width="1" height="8" fill="#000"/>
<rect x="1033" y="357" width="3" height="1" fill="#000"/>
<rect x="1037" y="323" width="1" height="35" fill="#000"/>
<rect x="1036" y="326" width="3" height="32" fill="#000"/>
<rect x="1037" y="327" width="1" height="30" fill="#fff"/>
<rect x="1040" y="316" width="1" height="11" fill="#000"/>
<rect x="1039" y="321" width="3" height="6" fill="#000"/>
<rect x="1040" y="322" width="1" height="4" fill="#fff"/>
<rect x="1044" y="315" width="1" height="11" fill="#000"/>
<rect x="1043" y="319" width="3" height="7" fill="#000"/>
<rect x="1047" y="323" width="1" height="4" fill="#707070"/>
<rect x="1046" y="323" width="3" height="4" fill="#7a7a7a"/>
<rect x="1050" y="313" width="1" height="10" fill="#000"/>
<rect x="1049" y="315" width="3" height="8" fill="#000"/>
<rect x="1050" y="316" width="1" height="6" fill="#fff"/>
<rect x="1054" y="315" width="1" height="4" fill="#000"/>
<rect x="1053" y="317" width="3" height="2" fill="#000"/>
<rect x="1057" y="316" width="1" height="9" fill="#000"/>
<rect x="1056" y="317" width="3" height="4" fill="#000"/>
<rect x="1057" y="318" width="1" height="2" fill="#fff"/>
<rect x="1060" y="285" width="1" height="33" fill="#000"/>
<rect x="1059" y="289" width="3" height="29" fill="#000"/>
<rect x="1060" y="290" width="1" height="27" fill="#fff"/>
<rect x="1063" y="282" width="1" height="11" fill="#000"/>
<rect x="1062" y="289" width="3" height="1" fill="#000"/>
<rect x="1067" y="289" width="1" height="1" fill="#000"/>
<rect x="1066" y="289" width="3" height="1" fill="#000"/>
<rect x="1070" y="281" width="1" height="10" fill="#000"/>
<rect x="1069" y="288" width="3" height="3" fill="#000"/>
<rect x="1073" y="290" width="1" height="14" fill="#000"/>
<rect x="1072" y="290" width="3" height="12" fill="#000"/>
<rect x="1077" y="283" width="1" height="19" fill="#000"/>
<rect x="1076" y="284" width="3" height="18" fill="#000"/>
<rect x="1077" y="285" width="1" height="16" fill="#fff"/>
<rect x="1080" y="274" width="1" height="10" fill="#000"/>
<rect x="1079" y="277" width="3" height="7" fill="#000"/>
<rect x="1080" y="278" width="1" height="5" fill="#fff"/>
<rect x="1083" y="273" width="1" height="21" fill="#000"/>
<rect x="1082" y="274" width="3" height="6" fill="#000"/>
<rect x="1083" y="275" width="1" height="4" fill="#fff"/>
<rect x="1087" y="281" width="1" height="16" fill="#000"/>
<rect x="1086" y="281" width="3" height="16" fill="#000"/>
<rect x="1090" y="297" width="1" height="31" fill="#000"/>
<rect x="1089" y="297" width="3" height="27" fill="#000"/>
<rect x="1093" y="314" width="1" height="11" fill="#000"/>
<rect x="1092" y="314" width="3" height="11" fill="#000"/>
<rect x="1093" y="315" width="1" height="9" fill="#fff"/>
<rect x="1097" y="314" width="1" height="28" fill="#000"/>
<rect x="1096" y="314" width="3" height="19" fill="#000"/>
<rect x="1100" y="319" width="1" height="17" fill="#000"/>
<rect x="1099" y="323" width="3" height="10" fill="#000"/>
<rect x="1100" y="324" width="1" height="8" fill="#fff"/>
<rect x="1103" y="320" width="1" height="13" fill="#000"/>
<rect x="1102" y="323" width="3" height="10" fill="#000"/>
<rect x="1103" y="324" width="1" height="8" fill="#fff"/>
<rect x="1107" y="322" width="1" height="16" fill="#000"/>
<rect x="1106" y="326" width="3" height="7" fill="#000"/>
<rect x="1110" y="291" width="1" height="40" fill="#707070"/>
<rect x="1109" y="307" width="3" height="24" fill="#7a7a7a"/>
<rect x="1113" y="302" width="1" height="28" fill="#000"/>
<rect x="1112" y="307" width="3" height="17" fill="#000"/>
<rect x="1116" y="319" width="1" height="12" fill="#000"/>
<rect x="1115" y="323" width="3" height="1" fill="#000"/>
<rect x="1120" y="323" width="1" height="10" fill="#000"/>
<rect x="1119" y="323" width="3" height="4" fill="#000"/>
<rect x="1123" y="317" width="1" height="23" fill="#000"/>
<rect x="1122" y="328" width="3" height="12" fill="#000"/>
<rect x="1126" y="334" width="1" height="18" fill="#000"/>
<rect x="1125" y="339" width="3" height="10" fill="#000"/>
<rect x="1130" y="342" width="1" height="13" fill="#707070"/>
<rect x="1129" y="344" width="3" height="6" fill="#7a7a7a"/>
<rect x="1133" y="337" width="1" height="13" fill="#000"/>
<rect x="1132" y="341" width="3" height="6" fill="#000"/>
<rect x="1133" y="342" width="1" height="4" fill="#fff"/>
</g>
<path d="M68.0 259.0 C75.1 255.7 62.6 260.1 89.4 249.2 C116.2 238.3 120.6 237.6 148.4 226.3 C176.3 215.0 152.6 223.6 173.1 215.2 C193.6 206.9 183.7 210.4 210.0 201.2 C236.2 192.0 223.1 194.8 251.8 187.7 C280.5 180.5 273.2 183.9 296.1 179.8 C319.1 175.7 306.1 177.5 320.7 175.4 C335.4 173.3 322.9 174.8 340.0 173.5 C357.1 172.3 347.4 172.2 372.0 171.6 C396.6 170.9 387.6 171.1 413.8 171.6 C440.1 172.1 432.7 171.6 450.8 173.0 C468.8 174.5 455.7 173.5 468.0 176.0 C480.3 178.4 472.9 178.4 487.7 180.4 C502.4 182.5 495.9 181.6 512.3 182.1 C528.7 182.7 520.5 181.7 536.9 182.1 C553.3 182.6 545.1 182.6 561.5 183.4 C577.9 184.2 569.7 182.6 586.1 184.6 C602.5 186.7 599.4 186.8 610.7 189.5 C622.0 192.2 608.7 189.3 620.0 192.6 C631.3 196.0 626.6 194.6 644.6 199.5 C662.7 204.5 657.7 202.1 674.1 207.4 C690.6 212.7 679.1 210.8 693.8 215.5 C708.6 220.3 702.0 216.4 718.4 221.7 C734.9 227.0 726.7 225.8 743.1 231.5 C759.5 237.3 751.3 233.6 767.7 238.9 C784.1 244.2 775.9 242.6 792.3 247.5 C808.7 252.5 803.8 250.8 816.9 253.7 C830.0 256.6 818.5 253.0 831.7 256.1 C844.8 259.3 840.7 257.3 856.3 263.0 C871.9 268.8 864.5 266.2 878.4 273.4 C892.4 280.5 884.3 276.9 898.1 284.4 C912.0 292.0 907.8 289.6 920.0 296.0 C932.2 302.5 924.1 298.4 934.8 303.8 C945.4 309.3 938.9 307.1 952.0 312.5 C965.1 317.8 960.2 315.7 974.1 319.8 C988.1 323.9 979.1 321.9 993.8 324.8 C1008.6 327.6 1002.0 326.8 1018.4 328.4 C1034.9 330.1 1026.7 329.7 1043.1 329.7 C1059.5 329.7 1051.3 329.5 1067.7 328.4 C1084.1 327.4 1075.9 327.5 1092.3 326.5 C1108.7 325.5 1102.3 325.7 1116.9 325.5 C1131.5 325.3 1129.7 325.8 1136.1 326.0" fill="none" stroke="#7f7f7f" stroke-width="2.1" stroke-linejoin="round" stroke-linecap="round"/>
<path d="M59.8 161.1 C64.8 158.6 64.8 158.8 74.6 153.7 C84.5 148.6 79.5 150.3 89.4 145.8 C99.2 141.4 94.3 143.2 104.1 140.4 C114.0 137.6 109.1 141.0 118.9 137.5 C128.8 133.9 123.8 134.8 133.7 129.8 C143.5 124.8 138.6 127.8 148.4 122.5 C158.3 117.1 153.4 118.7 163.2 113.8 C173.1 109.0 168.1 111.0 178.0 107.9 C187.8 104.8 182.1 107.8 192.8 104.5 C203.4 101.1 200.1 100.0 210.0 97.8 C219.8 95.7 212.4 98.5 222.3 98.1 C232.1 97.7 229.7 96.3 239.5 96.6 C249.4 96.9 241.2 96.0 251.8 99.1 C262.5 102.2 259.2 101.4 271.5 106.0 C283.8 110.5 278.1 110.0 288.7 112.6 C299.4 115.2 294.5 113.9 303.5 113.8 C312.5 113.8 307.6 111.7 315.8 112.4 C324.0 113.0 320.1 113.5 328.1 115.8 C336.2 118.1 331.9 116.7 340.0 119.4 C348.1 122.0 342.5 122.2 352.3 123.8 C362.2 125.5 360.5 123.3 369.5 124.3 C378.6 125.3 372.0 123.1 379.4 126.8 C386.8 130.5 382.7 130.5 391.7 135.4 C400.7 140.3 397.4 138.0 406.5 141.5 C415.5 145.1 410.6 141.4 418.8 146.0 C427.0 150.5 422.0 149.6 431.1 155.1 C440.1 160.6 436.8 157.9 445.8 162.5 C454.9 167.0 449.9 163.7 458.1 168.6 C466.3 173.5 461.4 170.7 470.4 177.2 C479.5 183.8 476.2 183.1 485.2 188.3 C494.2 193.5 488.5 190.7 497.5 192.7 C506.5 194.8 502.4 193.9 512.3 194.4 C522.1 195.0 518.0 195.0 527.1 194.4 C536.1 193.9 530.3 193.0 539.4 192.7 C548.4 192.5 542.6 193.1 554.1 193.7 C565.6 194.3 562.3 194.2 573.8 194.4 C585.3 194.7 581.2 192.4 588.6 194.4 C596.0 196.5 588.6 194.4 596.0 200.6 C603.4 206.8 602.5 205.5 610.7 212.9 C618.9 220.3 612.6 217.0 620.6 222.8 C628.6 228.5 625.1 224.5 634.8 230.3 C644.4 236.1 639.7 234.4 649.5 240.1 C659.4 245.9 655.3 241.8 664.3 247.5 C673.3 253.3 668.4 250.6 676.6 257.4 C684.8 264.2 679.9 261.0 688.9 268.0 C697.9 274.9 693.8 273.2 703.7 278.3 C713.5 283.4 708.6 279.3 718.4 283.2 C728.3 287.2 723.4 285.2 733.2 290.1 C743.1 295.0 738.1 292.0 748.0 298.0 C757.8 304.0 752.9 302.1 762.8 308.1 C772.6 314.1 767.7 311.1 777.5 316.0 C787.4 320.8 784.9 319.3 792.3 322.6 C799.7 325.9 791.5 324.8 799.7 325.8 C807.9 326.8 806.2 326.1 816.9 325.6 C827.6 325.0 823.5 323.4 831.7 324.1 C839.9 324.7 836.6 326.1 841.5 327.5 C846.4 328.9 840.7 326.0 846.5 328.3 C852.2 330.6 851.4 328.7 858.8 334.5 C866.1 340.2 860.4 337.3 868.6 345.5 C876.8 353.7 873.5 348.8 883.4 359.1 C893.2 369.3 888.3 365.6 898.1 376.3 C908.0 387.0 903.1 381.6 912.9 391.1 C922.8 400.5 918.6 396.4 927.7 404.6 C936.7 412.8 932.6 410.3 940.0 415.7 C947.4 421.0 942.5 419.2 949.8 420.6 C957.1 422.0 952.1 421.0 961.8 420.0 C971.6 419.0 966.8 419.5 979.1 417.5 C991.4 415.6 987.3 416.7 998.8 414.1 C1010.2 411.5 1003.7 413.2 1013.5 409.7 C1023.4 406.1 1020.1 407.6 1028.3 403.5 C1036.5 399.4 1030.8 403.1 1038.1 397.4 C1045.5 391.6 1041.4 394.5 1050.4 386.3 C1059.5 378.1 1056.2 381.4 1065.2 372.8 C1074.2 364.1 1070.1 367.0 1077.5 360.4 C1084.9 353.9 1080.0 357.0 1087.4 353.1 C1094.7 349.1 1091.5 351.1 1099.7 348.6 C1107.9 346.2 1103.8 347.9 1112.0 345.7 C1120.2 343.5 1116.9 342.6 1124.3 342.0 C1131.7 341.3 1130.8 343.1 1134.1 343.7" fill="none" stroke="#0000ff" stroke-width="2.3" stroke-linejoin="round" stroke-linecap="round"/>
<path d="M57 172.8H1158" stroke="#1010ff" stroke-width="1.3" fill="none"/>
<path d="M147 55.7H1159" stroke="#0000ff" stroke-width="2.1" fill="none"/>
<path d="M147 502.5H1159" stroke="#0000ff" stroke-width="2.1" fill="none"/>
<path d="M149 226.4H1159" stroke="#1414ff" stroke-width="1.15" stroke-dasharray="2.5 3.2" fill="none"/>
<path d="M149 279.1H1159" stroke="#4646ff" stroke-width="1.8" stroke-dasharray="3 3.6" fill="none"/>
<path d="M149 331.8H1159" stroke="#1414ff" stroke-width="1.15" stroke-dasharray="4 4" fill="none"/>
<path d="M149 397.1H1159" stroke="#1414ff" stroke-width="1.15" stroke-dasharray="3 3.5" fill="none"/>
<path d="M148 55.7L214.6 502.5" stroke="#2020ff" stroke-width="1.3" stroke-dasharray="2.5 4" fill="none"/>
<path d="M288 10.66L1158 486.8" stroke="#ff2828" stroke-width="1" fill="none"/>
<path d="M176 97L996.5 547.5" stroke="#ff0000" stroke-width="2.75" fill="none"/>
<path d="M205 56.2L1120 334" stroke="#2828ff" stroke-width="1.05" fill="none"/>
<path d="M821.8 304.9L1158 264.5" stroke="#2828ff" stroke-width="1.05" fill="none"/>
<path d="M868.6 412.7L1137 345" stroke="#2828ff" stroke-width="1.05" fill="none"/>
<g shape-rendering="crispEdges" stroke="#8484ff" stroke-width="1" fill="none">
<rect x="57.5" y="10.5" width="1103" height="538"/>
<rect x="57.5" y="577.5" width="1103" height="73"/>
<rect x="57.5" y="679.5" width="1103" height="89"/>
<path d="M51 538.5H57M1160 538.5h6"/>
<path d="M51 524.5H57M1160 524.5h6"/>
<path d="M51 510.5H57M1160 510.5h6"/>
<path d="M51 496.5H57M1160 496.5h6"/>
<path d="M51 483.5H57M1160 483.5h6"/>
<path d="M51 469.5H57M1160 469.5h6"/>
<path d="M51 455.5H57M1160 455.5h6"/>
<path d="M51 441.5H57M1160 441.5h6"/>
<path d="M51 427.5H57M1160 427.5h6"/>
<path d="M51 413.5H57M1160 413.5h6"/>
<path d="M51 399.5H57M1160 399.5h6"/>
<path d="M51 385.5H57M1160 385.5h6"/>
<path d="M51 372.5H57M1160 372.5h6"/>
<path d="M51 358.5H57M1160 358.5h6"/>
<path d="M51 344.5H57M1160 344.5h6"/>
<path d="M51 330.5H57M1160 330.5h6"/>
<path d="M51 316.5H57M1160 316.5h6"/>
<path d="M51 302.5H57M1160 302.5h6"/>
<path d="M51 288.5H57M1160 288.5h6"/>
<path d="M51 274.5H57M1160 274.5h6"/>
<path d="M51 261.5H57M1160 261.5h6"/>
<path d="M51 247.5H57M1160 247.5h6"/>
<path d="M51 233.5H57M1160 233.5h6"/>
<path d="M51 219.5H57M1160 219.5h6"/>
<path d="M51 205.5H57M1160 205.5h6"/>
<path d="M51 191.5H57M1160 191.5h6"/>
<path d="M51 177.5H57M1160 177.5h6"/>
<path d="M51 164.5H57M1160 164.5h6"/>
<path d="M51 150.5H57M1160 150.5h6"/>
<path d="M51 136.5H57M1160 136.5h6"/>
<path d="M51 122.5H57M1160 122.5h6"/>
<path d="M51 108.5H57M1160 108.5h6"/>
<path d="M51 94.5H57M1160 94.5h6"/>
<path d="M51 80.5H57M1160 80.5h6"/>
<path d="M51 66.5H57M1160 66.5h6"/>
<path d="M51 53.5H57M1160 53.5h6"/>
<path d="M51 39.5H57M1160 39.5h6"/>
<path d="M51 25.5H57M1160 25.5h6"/>
<path d="M51 11.5H57M1160 11.5h6"/>
<path d="M54 545.5H57M1160 545.5h3"/>
<path d="M54 531.5H57M1160 531.5h3"/>
<path d="M54 517.5H57M1160 517.5h3"/>
<path d="M54 503.5H57M1160 503.5h3"/>
<path d="M54 489.5H57M1160 489.5h3"/>
<path d="M54 476.5H57M1160 476.5h3"/>
<path d="M54 462.5H57M1160 462.5h3"/>
<path d="M54 448.5H57M1160 448.5h3"/>
<path d="M54 434.5H57M1160 434.5h3"/>
<path d="M54 420.5H57M1160 420.5h3"/>
<path d="M54 406.5H57M1160 406.5h3"/>
<path d="M54 392.5H57M1160 392.5h3"/>
<path d="M54 379.5H57M1160 379.5h3"/>
<path d="M54 365.5H57M1160 365.5h3"/>
<path d="M54 351.5H57M1160 351.5h3"/>
<path d="M54 337.5H57M1160 337.5h3"/>
<path d="M54 323.5H57M1160 323.5h3"/>
<path d="M54 309.5H57M1160 309.5h3"/>
<path d="M54 295.5H57M1160 295.5h3"/>
<path d="M54 281.5H57M1160 281.5h3"/>
<path d="M54 268.5H57M1160 268.5h3"/>
<path d="M54 254.5H57M1160 254.5h3"/>
<path d="M54 240.5H57M1160 240.5h3"/>
<path d="M54 226.5H57M1160 226.5h3"/>
<path d="M54 212.5H57M1160 212.5h3"/>
<path d="M54 198.5H57M1160 198.5h3"/>
<path d="M54 184.5H57M1160 184.5h3"/>
<path d="M54 170.5H57M1160 170.5h3"/>
<path d="M54 157.5H57M1160 157.5h3"/>
<path d="M54 143.5H57M1160 143.5h3"/>
<path d="M54 129.5H57M1160 129.5h3"/>
<path d="M54 115.5H57M1160 115.5h3"/>
<path d="M54 101.5H57M1160 101.5h3"/>
<path d="M54 87.5H57M1160 87.5h3"/>
<path d="M54 73.5H57M1160 73.5h3"/>
<path d="M54 60.5H57M1160 60.5h3"/>
<path d="M54 46.5H57M1160 46.5h3"/>
<path d="M54 32.5H57M1160 32.5h3"/>
<path d="M54 18.5H57M1160 18.5h3"/>
<path d="M51 647.5H57M1160 647.5h6"/>
<path d="M54 638.5H57M1160 638.5h3"/>
<path d="M51 629.5H57M1160 629.5h6"/>
<path d="M54 620.5H57M1160 620.5h3"/>
<path d="M51 611.5H57M1160 611.5h6"/>
<path d="M54 602.5H57M1160 602.5h3"/>
<path d="M51 593.5H57M1160 593.5h6"/>
<path d="M54 584.5H57M1160 584.5h3"/>
<path d="M51 761.5H57M1160 761.5h6"/>
<path d="M54 755.5H57M1160 755.5h3"/>
<path d="M51 748.5H57M1160 748.5h6"/>
<path d="M54 742.5H57M1160 742.5h3"/>
<path d="M51 735.5H57M1160 735.5h6"/>
<path d="M54 729.5H57M1160 729.5h3"/>
<path d="M51 723.5H57M1160 723.5h6"/>
<path d="M54 716.5H57M1160 716.5h3"/>
<path d="M51 710.5H57M1160 710.5h6"/>
<path d="M54 703.5H57M1160 703.5h3"/>
<path d="M51 697.5H57M1160 697.5h6"/>
<path d="M54 691.5H57M1160 691.5h3"/>
<path d="M51 684.5H57M1160 684.5h6"/>
</g>
<path d="M57 611.5H1159" stroke="#4848ff" stroke-width="1" fill="none" shape-rendering="crispEdges"/>
<path d="M59.8 604.0 L74.6 601.6 L94.3 600.8 L109.0 604.0 L123.8 605.7 L133.6 605.7 L148.4 602.5 L163.1 600.1 L172.9 599.6 L182.8 600.8 L197.5 604.0 L217.2 606.5 L232.0 608.2 L241.8 610.7 L251.6 614.3 L261.5 618.8 L271.3 620.5 L286.0 622.2 L295.9 622.2 L305.7 620.5 L315.6 618.0 L325.4 615.6 L335.2 614.3 L340.0 617.3 L354.8 619.3 L369.5 616.3 L381.8 615.6 L389.2 619.3 L403.9 622.2 L418.7 622.2 L433.4 625.4 L448.2 625.9 L467.9 624.9 L482.6 626.6 L497.4 626.1 L507.2 621.7 L517.0 617.3 L526.9 613.8 L536.7 610.7 L546.5 608.2 L556.4 607.0 L566.2 608.2 L576.0 609.4 L585.9 609.4 L595.7 611.4 L605.6 618.0 L615.4 625.4 L625.2 631.1 L630.0 632.0 L644.8 630.3 L662.0 626.6 L674.3 627.9 L689.0 630.3 L703.8 629.6 L718.5 625.4 L733.3 621.7 L748.0 621.2 L762.8 624.2 L777.5 625.9 L792.3 624.2 L807.0 622.2 L816.9 618.0 L826.7 613.1 L836.5 608.9 L846.4 607.7 L853.8 609.4 L861.1 614.3 L871.0 624.2 L880.8 632.8 L890.6 637.7 L900.5 640.9 L915.2 641.4 L929.5 637.7 L944.3 634.0 L954.1 631.1 L961.5 626.6 L968.8 619.3 L976.2 613.1 L983.6 608.2 L993.4 604.5 L1003.3 602.0 L1013.1 599.6 L1022.9 597.6 L1032.8 595.9 L1042.6 592.2 L1052.4 588.5 L1062.3 586.1 L1072.1 584.8 L1082.0 584.3 L1091.8 584.8 L1104.1 591.0 L1118.8 599.6 L1133.6 607.0" fill="none" stroke="#000" stroke-width="3" stroke-linejoin="round" stroke-linecap="round" />
<path d="M59.8 611.5 L59.8 604.0 L63.1 603.3 L66.4 602.6 L69.7 601.9 L73.0 601.2 L76.4 600.8 L79.7 600.8 L83.0 600.8 L86.3 600.8 L89.6 600.9 L92.9 601.6 L96.2 602.3 L99.5 603.0 L102.9 603.7 L106.2 604.3 L109.5 604.7 L112.8 605.1 L116.1 605.5 L119.4 605.9 L122.7 606.3 L126.0 606.1 L129.4 605.5 L132.7 604.6 L136.0 603.7 L139.3 602.7 L142.6 601.8 L145.9 601.1 L149.2 600.5 L152.6 599.9 L155.9 599.3 L159.2 598.9 L162.5 599.1 L165.8 599.2 L169.1 599.4 L172.4 599.6 L175.7 600.8 L179.1 602.3 L182.4 603.8 L185.7 604.7 L189.0 605.6 L192.3 606.4 L195.6 606.3 L198.9 606.2 L202.2 606.0 L205.6 605.8 L208.9 606.1 L212.2 606.8 L215.5 607.5 L218.8 608.2 L222.1 608.9 L225.4 609.9 L228.7 610.9 L232.1 611.9 L235.4 612.2 L238.7 612.4 L242.0 612.7 L245.3 613.0 L248.6 613.9 L251.9 615.3 L255.2 616.7 L258.6 618.2 L261.9 619.7 L265.2 621.2 L268.5 621.6 L271.8 621.5 L275.1 621.4 L278.4 621.3 L281.7 621.2 L285.1 621.0 L288.4 620.9 L291.7 620.7 L295.0 620.5 L298.3 619.7 L301.6 618.6 L304.9 617.5 L308.2 616.1 L311.6 614.5 L314.9 613.0 L318.2 612.0 L321.5 611.4 L324.8 611.6 L328.1 611.8 L331.4 612.3 L334.7 613.5 L338.1 614.8 L341.4 616.1 L344.7 617.5 L348.0 619.0 L351.3 619.3 L354.6 618.4 L357.9 617.5 L361.2 616.5 L364.6 615.6 L367.9 615.3 L371.2 615.0 L374.5 614.7 L377.8 614.5 L381.1 615.4 L384.4 617.5 L387.7 619.6 L391.1 621.0 L394.4 621.8 L397.7 622.6 L401.0 622.8 L404.3 622.7 L407.6 622.5 L410.9 622.4 L414.2 622.3 L417.6 622.8 L420.9 623.3 L424.2 623.8 L427.5 624.7 L430.8 625.5 L434.1 626.1 L437.4 625.9 L440.7 625.8 L444.1 625.6 L447.4 625.4 L450.7 625.4 L454.0 625.4 L457.3 625.4 L460.6 625.4 L463.9 625.5 L467.2 625.7 L470.6 626.0 L473.9 626.4 L477.2 627.2 L480.5 628.1 L483.8 628.4 L487.1 627.7 L490.4 627.0 L493.7 626.0 L497.1 624.3 L500.4 622.7 L503.7 620.8 L507.0 618.8 L510.3 616.7 L513.6 615.0 L516.9 613.8 L520.2 612.5 L523.5 611.1 L526.9 609.4 L530.2 608.0 L533.5 607.2 L536.8 606.3 L540.1 606.0 L543.4 606.8 L546.7 607.6 L550.0 608.3 L553.4 608.8 L556.7 609.3 L560.0 609.7 L563.3 609.8 L566.6 609.7 L569.9 609.6 L573.2 609.5 L576.5 609.4 L579.9 608.9 L583.2 608.5 L586.5 608.5 L589.8 610.2 L593.1 611.8 L596.4 615.6 L599.7 619.4 L603.0 622.3 L606.4 624.8 L609.7 627.3 L613.0 629.4 L616.3 631.5 L619.6 633.6 L622.9 634.0 L626.2 634.0 L629.5 634.0 L632.9 633.0 L636.2 631.8 L639.5 630.6 L642.8 629.3 L646.1 628.4 L649.4 627.8 L652.7 627.3 L656.0 626.7 L659.4 626.2 L662.7 626.5 L666.0 626.8 L669.3 627.1 L672.6 627.8 L675.9 628.6 L679.2 629.3 L682.5 630.0 L685.9 630.2 L689.2 630.1 L692.5 629.9 L695.8 629.7 L699.1 629.5 L702.4 628.3 L705.7 627.1 L709.0 625.8 L712.4 624.6 L715.7 623.7 L719.0 622.8 L722.3 622.0 L725.6 621.2 L728.9 620.5 L732.2 620.3 L735.5 620.1 L738.9 620.0 L742.2 619.8 L745.5 620.2 L748.8 620.9 L752.1 621.6 L755.4 622.3 L758.7 623.2 L762.0 624.0 L765.4 624.8 L768.7 625.3 L772.0 625.0 L775.3 624.8 L778.6 624.5 L781.9 624.2 L785.2 623.9 L788.5 623.7 L791.9 623.4 L795.2 623.1 L798.5 622.5 L801.8 621.2 L805.1 620.0 L808.4 618.4 L811.7 616.3 L815.0 614.2 L818.4 612.1 L821.7 609.9 L825.0 607.9 L828.3 606.8 L831.6 605.7 L834.9 607.2 L838.2 608.6 L841.5 609.5 L844.9 610.3 L848.2 611.1 L851.5 612.1 L854.8 616.0 L858.1 619.8 L861.4 623.2 L864.7 626.6 L868.0 629.9 L871.4 631.8 L874.7 633.4 L878.0 635.1 L881.3 636.5 L884.6 637.9 L887.9 639.3 L891.2 640.4 L894.5 641.5 L897.9 642.6 L901.2 642.2 L904.5 641.8 L907.8 641.4 L911.1 641.0 L914.4 640.6 L917.7 640.1 L921.0 638.9 L924.4 637.8 L927.7 636.6 L931.0 635.9 L934.3 635.6 L937.6 635.4 L940.9 634.6 L944.2 633.4 L947.5 632.2 L950.9 629.9 L954.2 626.6 L957.5 622.3 L960.8 615.7 L964.1 611.0 L967.4 607.6 L970.7 605.7 L974.0 604.0 L977.4 603.7 L980.7 603.5 L984.0 603.2 L987.3 602.7 L990.6 602.1 L993.9 601.6 L997.2 601.0 L1000.5 600.8 L1003.9 600.8 L1007.2 600.8 L1010.5 599.5 L1013.8 597.6 L1017.1 596.6 L1020.4 596.6 L1023.7 596.6 L1027.0 596.6 L1030.4 595.8 L1033.7 594.7 L1037.0 593.7 L1040.3 591.7 L1043.6 589.5 L1046.9 588.3 L1050.2 587.8 L1053.5 587.3 L1056.9 586.9 L1060.2 585.9 L1063.5 584.8 L1066.8 583.7 L1070.1 583.6 L1073.4 583.6 L1076.7 583.6 L1080.0 584.0 L1083.4 584.4 L1086.7 584.8 L1090.0 587.4 L1093.3 590.2 L1096.6 593.0 L1099.9 595.7 L1103.2 597.9 L1106.5 599.6 L1109.9 601.1 L1113.2 602.2 L1116.5 603.3 L1119.8 605.0 L1123.1 606.6 L1126.4 608.3 L1129.7 610.0 L1133.0 611.1 L1133.0 611.5Z" fill="#9a9aff" stroke="#9a9aff" stroke-width="1"/>
<g fill="#0000ff">
<rect x="58.35" y="603.2" width="3.25" height="9.3"/>
<rect x="61.51" y="602.5" width="2.75" height="10.0"/>
<rect x="64.97" y="601.8" width="3.25" height="10.7"/>
<rect x="68.14" y="601.1" width="2.75" height="11.4"/>
<rect x="71.60" y="600.4" width="3.25" height="12.1"/>
<rect x="74.76" y="600.0" width="2.75" height="12.5"/>
<rect x="78.22" y="600.0" width="3.25" height="12.5"/>
<rect x="81.39" y="600.0" width="2.75" height="12.5"/>
<rect x="84.85" y="600.0" width="3.25" height="12.5"/>
<rect x="88.01" y="600.1" width="2.75" height="12.4"/>
<rect x="91.47" y="600.8" width="3.25" height="11.7"/>
<rect x="94.64" y="601.5" width="2.75" height="11.0"/>
<rect x="98.10" y="602.2" width="3.25" height="10.3"/>
<rect x="101.26" y="602.9" width="2.75" height="9.6"/>
<rect x="104.72" y="603.5" width="3.25" height="9.0"/>
<rect x="107.89" y="603.9" width="2.75" height="8.6"/>
<rect x="111.35" y="604.3" width="3.25" height="8.2"/>
<rect x="114.51" y="604.7" width="2.75" height="7.8"/>
<rect x="117.97" y="605.1" width="3.25" height="7.4"/>
<rect x="121.14" y="605.5" width="2.75" height="7.0"/>
<rect x="124.60" y="605.3" width="3.25" height="7.2"/>
<rect x="127.76" y="604.7" width="2.75" height="7.8"/>
<rect x="131.23" y="603.8" width="3.25" height="8.7"/>
<rect x="134.39" y="602.9" width="2.75" height="9.6"/>
<rect x="137.85" y="601.9" width="3.25" height="10.6"/>
<rect x="141.01" y="601.0" width="2.75" height="11.5"/>
<rect x="144.48" y="600.3" width="3.25" height="12.2"/>
<rect x="147.64" y="599.7" width="2.75" height="12.8"/>
<rect x="151.10" y="599.1" width="3.25" height="13.4"/>
<rect x="154.26" y="598.5" width="2.75" height="14.0"/>
<rect x="157.73" y="598.1" width="3.25" height="14.4"/>
<rect x="160.89" y="598.3" width="2.75" height="14.2"/>
<rect x="164.35" y="598.4" width="3.25" height="14.1"/>
<rect x="167.51" y="598.6" width="2.75" height="13.9"/>
<rect x="170.98" y="598.8" width="3.25" height="13.7"/>
<rect x="174.14" y="600.0" width="2.75" height="12.5"/>
<rect x="177.60" y="601.5" width="3.25" height="11.0"/>
<rect x="180.76" y="603.0" width="2.75" height="9.5"/>
<rect x="184.23" y="603.9" width="3.25" height="8.6"/>
<rect x="187.39" y="604.8" width="2.75" height="7.7"/>
<rect x="190.85" y="605.6" width="3.25" height="6.9"/>
<rect x="194.01" y="605.5" width="2.75" height="7.0"/>
<rect x="197.48" y="605.4" width="3.25" height="7.1"/>
<rect x="200.64" y="605.2" width="2.75" height="7.3"/>
<rect x="204.10" y="605.0" width="3.25" height="7.5"/>
<rect x="207.26" y="605.3" width="2.75" height="7.2"/>
<rect x="210.73" y="606.0" width="3.25" height="6.5"/>
<rect x="213.89" y="606.7" width="2.75" height="5.8"/>
<rect x="217.35" y="607.4" width="3.25" height="5.1"/>
<rect x="220.51" y="608.1" width="2.75" height="4.4"/>
<rect x="223.98" y="609.1" width="3.25" height="3.4"/>
<rect x="227.14" y="610.1" width="2.75" height="2.4"/>
<rect x="230.60" y="610.7" width="3.25" height="2.2"/>
<rect x="233.76" y="610.7" width="2.75" height="2.5"/>
<rect x="237.23" y="610.7" width="3.25" height="2.7"/>
<rect x="240.39" y="610.7" width="2.75" height="3.0"/>
<rect x="243.85" y="610.7" width="3.25" height="3.3"/>
<rect x="247.01" y="610.7" width="2.75" height="4.2"/>
<rect x="250.48" y="610.7" width="3.25" height="5.6"/>
<rect x="253.64" y="610.7" width="2.75" height="7.0"/>
<rect x="257.10" y="610.7" width="3.25" height="8.5"/>
<rect x="260.26" y="610.7" width="2.75" height="10.0"/>
<rect x="263.73" y="610.7" width="3.25" height="11.5"/>
<rect x="266.89" y="610.7" width="2.75" height="11.9"/>
<rect x="270.35" y="610.7" width="3.25" height="11.8"/>
<rect x="273.51" y="610.7" width="2.75" height="11.7"/>
<rect x="276.98" y="610.7" width="3.25" height="11.6"/>
<rect x="280.14" y="610.7" width="2.75" height="11.5"/>
<rect x="283.60" y="610.7" width="3.25" height="11.3"/>
<rect x="286.76" y="610.7" width="2.75" height="11.2"/>
<rect x="290.23" y="610.7" width="3.25" height="11.0"/>
<rect x="293.39" y="610.7" width="2.75" height="10.8"/>
<rect x="296.85" y="610.7" width="3.25" height="10.0"/>
<rect x="300.01" y="610.7" width="2.75" height="8.9"/>
<rect x="303.48" y="610.7" width="3.25" height="7.8"/>
<rect x="306.64" y="610.7" width="2.75" height="6.4"/>
<rect x="310.10" y="610.7" width="3.25" height="4.8"/>
<rect x="313.26" y="610.7" width="2.75" height="3.3"/>
<rect x="316.73" y="610.7" width="3.25" height="2.3"/>
<rect x="319.89" y="610.6" width="2.75" height="1.9"/>
<rect x="323.35" y="610.7" width="3.25" height="1.9"/>
<rect x="326.51" y="610.7" width="2.75" height="2.1"/>
<rect x="329.98" y="610.7" width="3.25" height="2.6"/>
<rect x="333.14" y="610.7" width="2.75" height="3.8"/>
<rect x="336.60" y="610.7" width="3.25" height="5.1"/>
<rect x="339.76" y="610.7" width="2.75" height="6.4"/>
<rect x="343.23" y="610.7" width="3.25" height="7.8"/>
<rect x="346.39" y="610.7" width="2.75" height="9.3"/>
<rect x="349.85" y="610.7" width="3.25" height="9.6"/>
<rect x="353.01" y="610.7" width="2.75" height="8.7"/>
<rect x="356.48" y="610.7" width="3.25" height="7.8"/>
<rect x="359.64" y="610.7" width="2.75" height="6.8"/>
<rect x="363.10" y="610.7" width="3.25" height="5.9"/>
<rect x="366.26" y="610.7" width="2.75" height="5.6"/>
<rect x="369.73" y="610.7" width="3.25" height="5.3"/>
<rect x="372.89" y="610.7" width="2.75" height="5.0"/>
<rect x="376.35" y="610.7" width="3.25" height="4.8"/>
<rect x="379.51" y="610.7" width="2.75" height="5.7"/>
<rect x="382.98" y="610.7" width="3.25" height="7.8"/>
<rect x="386.14" y="610.7" width="2.75" height="9.9"/>
<rect x="389.60" y="610.7" width="3.25" height="11.3"/>
<rect x="392.76" y="610.7" width="2.75" height="12.1"/>
<rect x="396.23" y="610.7" width="3.25" height="12.9"/>
<rect x="399.39" y="610.7" width="2.75" height="13.1"/>
<rect x="402.85" y="610.7" width="3.25" height="13.0"/>
<rect x="406.01" y="610.7" width="2.75" height="12.8"/>
<rect x="409.48" y="610.7" width="3.25" height="12.7"/>
<rect x="412.64" y="610.7" width="2.75" height="12.6"/>
<rect x="416.10" y="610.7" width="3.25" height="13.1"/>
<rect x="419.26" y="610.7" width="2.75" height="13.6"/>
<rect x="422.73" y="610.7" width="3.25" height="14.1"/>
<rect x="425.89" y="610.7" width="2.75" height="15.0"/>
<rect x="429.35" y="610.7" width="3.25" height="15.8"/>
<rect x="432.51" y="610.7" width="2.75" height="16.4"/>
<rect x="435.98" y="610.7" width="3.25" height="16.2"/>
<rect x="439.14" y="610.7" width="2.75" height="16.1"/>
<rect x="442.60" y="610.7" width="3.25" height="15.9"/>
<rect x="445.76" y="610.7" width="2.75" height="15.7"/>
<rect x="449.23" y="610.7" width="3.25" height="15.7"/>
<rect x="452.39" y="610.7" width="2.75" height="15.7"/>
<rect x="455.85" y="610.7" width="3.25" height="15.7"/>
<rect x="459.01" y="610.7" width="2.75" height="15.7"/>
<rect x="462.48" y="610.7" width="3.25" height="15.8"/>
<rect x="465.64" y="610.7" width="2.75" height="16.0"/>
<rect x="469.10" y="610.7" width="3.25" height="16.3"/>
<rect x="472.26" y="610.7" width="2.75" height="16.7"/>
<rect x="475.73" y="610.7" width="3.25" height="17.5"/>
<rect x="478.89" y="610.7" width="2.75" height="18.4"/>
<rect x="482.35" y="610.7" width="3.25" height="18.7"/>
<rect x="485.51" y="610.7" width="2.75" height="18.0"/>
<rect x="488.98" y="610.7" width="3.25" height="17.3"/>
<rect x="492.14" y="610.7" width="2.75" height="16.3"/>
<rect x="495.60" y="610.7" width="3.25" height="14.6"/>
<rect x="498.76" y="610.7" width="2.75" height="13.0"/>
<rect x="502.23" y="610.7" width="3.25" height="11.1"/>
<rect x="505.39" y="610.7" width="2.75" height="9.1"/>
<rect x="508.85" y="610.7" width="3.25" height="7.0"/>
<rect x="512.01" y="610.7" width="2.75" height="5.3"/>
<rect x="515.47" y="610.7" width="3.25" height="4.1"/>
<rect x="518.64" y="610.7" width="2.75" height="2.8"/>
<rect x="522.10" y="610.3" width="3.25" height="2.2"/>
<rect x="525.26" y="608.6" width="2.75" height="3.9"/>
<rect x="528.72" y="607.2" width="3.25" height="5.3"/>
<rect x="531.89" y="606.4" width="2.75" height="6.1"/>
<rect x="535.35" y="605.5" width="3.25" height="7.0"/>
<rect x="538.51" y="605.2" width="2.75" height="7.3"/>
<rect x="541.97" y="606.0" width="3.25" height="6.5"/>
<rect x="545.14" y="606.8" width="2.75" height="5.7"/>
<rect x="548.60" y="607.5" width="3.25" height="5.0"/>
<rect x="551.76" y="608.0" width="2.75" height="4.5"/>
<rect x="555.22" y="608.5" width="3.25" height="4.0"/>
<rect x="558.39" y="608.9" width="2.75" height="3.6"/>
<rect x="561.85" y="609.0" width="3.25" height="3.5"/>
<rect x="565.01" y="608.9" width="2.75" height="3.6"/>
<rect x="568.47" y="608.8" width="3.25" height="3.7"/>
<rect x="571.64" y="608.7" width="2.75" height="3.8"/>
<rect x="575.10" y="608.6" width="3.25" height="3.9"/>
<rect x="578.26" y="608.1" width="2.75" height="4.4"/>
<rect x="581.72" y="607.7" width="3.25" height="4.8"/>
<rect x="584.89" y="607.7" width="2.75" height="4.8"/>
<rect x="588.35" y="609.4" width="3.25" height="3.1"/>
<rect x="591.51" y="610.7" width="2.75" height="2.1"/>
<rect x="594.97" y="610.7" width="3.25" height="5.9"/>
<rect x="598.14" y="610.7" width="2.75" height="9.7"/>
<rect x="601.60" y="610.7" width="3.25" height="12.6"/>
<rect x="604.76" y="610.7" width="2.75" height="15.1"/>
<rect x="608.22" y="610.7" width="3.25" height="17.6"/>
<rect x="611.39" y="610.7" width="2.75" height="19.7"/>
<rect x="614.85" y="610.7" width="3.25" height="21.8"/>
<rect x="618.01" y="610.7" width="2.75" height="23.9"/>
<rect x="621.47" y="610.7" width="3.25" height="24.3"/>
<rect x="624.64" y="610.7" width="2.75" height="24.3"/>
<rect x="628.10" y="610.7" width="3.25" height="24.3"/>
<rect x="631.26" y="610.7" width="2.75" height="23.3"/>
<rect x="634.72" y="610.7" width="3.25" height="22.1"/>
<rect x="637.89" y="610.7" width="2.75" height="20.9"/>
<rect x="641.35" y="610.7" width="3.25" height="19.6"/>
<rect x="644.51" y="610.7" width="2.75" height="18.7"/>
<rect x="647.97" y="610.7" width="3.25" height="18.1"/>
<rect x="651.14" y="610.7" width="2.75" height="17.6"/>
<rect x="654.60" y="610.7" width="3.25" height="17.0"/>
<rect x="657.76" y="610.7" width="2.75" height="16.5"/>
<rect x="661.22" y="610.7" width="3.25" height="16.8"/>
<rect x="664.39" y="610.7" width="2.75" height="17.1"/>
<rect x="667.85" y="610.7" width="3.25" height="17.4"/>
<rect x="671.01" y="610.7" width="2.75" height="18.1"/>
<rect x="674.47" y="610.7" width="3.25" height="18.9"/>
<rect x="677.64" y="610.7" width="2.75" height="19.6"/>
<rect x="681.10" y="610.7" width="3.25" height="20.3"/>
<rect x="684.26" y="610.7" width="2.75" height="20.5"/>
<rect x="687.72" y="610.7" width="3.25" height="20.4"/>
<rect x="690.89" y="610.7" width="2.75" height="20.2"/>
<rect x="694.35" y="610.7" width="3.25" height="20.0"/>
<rect x="697.51" y="610.7" width="2.75" height="19.8"/>
<rect x="700.97" y="610.7" width="3.25" height="18.6"/>
<rect x="704.14" y="610.7" width="2.75" height="17.4"/>
<rect x="707.60" y="610.7" width="3.25" height="16.1"/>
<rect x="710.76" y="610.7" width="2.75" height="14.9"/>
<rect x="714.22" y="610.7" width="3.25" height="14.0"/>
<rect x="717.39" y="610.7" width="2.75" height="13.1"/>
<rect x="720.85" y="610.7" width="3.25" height="12.3"/>
<rect x="724.01" y="610.7" width="2.75" height="11.5"/>
<rect x="727.47" y="610.7" width="3.25" height="10.8"/>
<rect x="730.64" y="610.7" width="2.75" height="10.6"/>
<rect x="734.10" y="610.7" width="3.25" height="10.4"/>
<rect x="737.26" y="610.7" width="2.75" height="10.3"/>
<rect x="740.72" y="610.7" width="3.25" height="10.1"/>
<rect x="743.89" y="610.7" width="2.75" height="10.5"/>
<rect x="747.35" y="610.7" width="3.25" height="11.2"/>
<rect x="750.51" y="610.7" width="2.75" height="11.9"/>
<rect x="753.97" y="610.7" width="3.25" height="12.6"/>
<rect x="757.14" y="610.7" width="2.75" height="13.5"/>
<rect x="760.60" y="610.7" width="3.25" height="14.3"/>
<rect x="763.76" y="610.7" width="2.75" height="15.1"/>
<rect x="767.22" y="610.7" width="3.25" height="15.6"/>
<rect x="770.39" y="610.7" width="2.75" height="15.3"/>
<rect x="773.85" y="610.7" width="3.25" height="15.1"/>
<rect x="777.01" y="610.7" width="2.75" height="14.8"/>
<rect x="780.47" y="610.7" width="3.25" height="14.5"/>
<rect x="783.64" y="610.7" width="2.75" height="14.2"/>
<rect x="787.10" y="610.7" width="3.25" height="14.0"/>
<rect x="790.26" y="610.7" width="2.75" height="13.7"/>
<rect x="793.72" y="610.7" width="3.25" height="13.4"/>
<rect x="796.89" y="610.7" width="2.75" height="12.8"/>
<rect x="800.35" y="610.7" width="3.25" height="11.5"/>
<rect x="803.51" y="610.7" width="2.75" height="10.3"/>
<rect x="806.97" y="610.7" width="3.25" height="8.7"/>
<rect x="810.14" y="610.7" width="2.75" height="6.6"/>
<rect x="813.60" y="610.7" width="3.25" height="4.5"/>
<rect x="816.76" y="610.7" width="2.75" height="2.4"/>
<rect x="820.22" y="609.1" width="3.25" height="3.4"/>
<rect x="823.39" y="607.1" width="2.75" height="5.4"/>
<rect x="826.85" y="606.0" width="3.25" height="6.5"/>
<rect x="830.01" y="604.9" width="2.75" height="7.6"/>
<rect x="833.47" y="606.4" width="3.25" height="6.1"/>
<rect x="836.64" y="607.8" width="2.75" height="4.7"/>
<rect x="840.10" y="608.7" width="3.25" height="3.8"/>
<rect x="843.26" y="609.5" width="2.75" height="3.0"/>
<rect x="846.72" y="610.3" width="3.25" height="2.2"/>
<rect x="849.89" y="610.7" width="2.75" height="2.4"/>
<rect x="853.35" y="610.7" width="3.25" height="6.3"/>
<rect x="856.51" y="610.7" width="2.75" height="10.1"/>
<rect x="859.97" y="610.7" width="3.25" height="13.5"/>
<rect x="863.14" y="610.7" width="2.75" height="16.9"/>
<rect x="866.60" y="610.7" width="3.25" height="20.2"/>
<rect x="869.76" y="610.7" width="2.75" height="22.1"/>
<rect x="873.22" y="610.7" width="3.25" height="23.7"/>
<rect x="876.39" y="610.7" width="2.75" height="25.4"/>
<rect x="879.85" y="610.7" width="3.25" height="26.8"/>
<rect x="883.01" y="610.7" width="2.75" height="28.2"/>
<rect x="886.47" y="610.7" width="3.25" height="29.6"/>
<rect x="889.64" y="610.7" width="2.75" height="30.7"/>
<rect x="893.10" y="610.7" width="3.25" height="31.8"/>
<rect x="896.26" y="610.7" width="2.75" height="32.9"/>
<rect x="899.72" y="610.7" width="3.25" height="32.5"/>
<rect x="902.89" y="610.7" width="2.75" height="32.1"/>
<rect x="906.35" y="610.7" width="3.25" height="31.7"/>
<rect x="909.51" y="610.7" width="2.75" height="31.3"/>
<rect x="912.97" y="610.7" width="3.25" height="30.9"/>
<rect x="916.14" y="610.7" width="2.75" height="30.4"/>
<rect x="919.60" y="610.7" width="3.25" height="29.2"/>
<rect x="922.76" y="610.7" width="2.75" height="28.1"/>
<rect x="926.22" y="610.7" width="3.25" height="26.9"/>
<rect x="929.39" y="610.7" width="2.75" height="26.2"/>
<rect x="932.85" y="610.7" width="3.25" height="25.9"/>
<rect x="936.01" y="610.7" width="2.75" height="25.7"/>
<rect x="939.47" y="610.7" width="3.25" height="24.9"/>
<rect x="942.64" y="610.7" width="2.75" height="23.7"/>
<rect x="946.10" y="610.7" width="3.25" height="22.5"/>
<rect x="949.26" y="610.7" width="2.75" height="20.2"/>
<rect x="952.72" y="610.7" width="3.25" height="16.9"/>
<rect x="955.89" y="610.7" width="2.75" height="12.6"/>
<rect x="959.35" y="610.7" width="3.25" height="6.0"/>
<rect x="962.51" y="610.2" width="2.75" height="2.3"/>
<rect x="965.97" y="606.8" width="3.25" height="5.7"/>
<rect x="969.14" y="604.9" width="2.75" height="7.6"/>
<rect x="972.60" y="603.2" width="3.25" height="9.3"/>
<rect x="975.76" y="602.9" width="2.75" height="9.6"/>
<rect x="979.22" y="602.7" width="3.25" height="9.8"/>
<rect x="982.39" y="602.4" width="2.75" height="10.1"/>
<rect x="985.85" y="601.9" width="3.25" height="10.6"/>
<rect x="989.01" y="601.3" width="2.75" height="11.2"/>
<rect x="992.47" y="600.8" width="3.25" height="11.7"/>
<rect x="995.64" y="600.2" width="2.75" height="12.3"/>
<rect x="999.10" y="600.0" width="3.25" height="12.5"/>
<rect x="1002.26" y="600.0" width="2.75" height="12.5"/>
<rect x="1005.72" y="600.0" width="3.25" height="12.5"/>
<rect x="1008.89" y="598.7" width="2.75" height="13.8"/>
<rect x="1012.35" y="596.8" width="3.25" height="15.7"/>
<rect x="1015.51" y="595.8" width="2.75" height="16.7"/>
<rect x="1018.97" y="595.8" width="3.25" height="16.7"/>
<rect x="1022.14" y="595.8" width="2.75" height="16.7"/>
<rect x="1025.60" y="595.8" width="3.25" height="16.7"/>
<rect x="1028.76" y="595.0" width="2.75" height="17.5"/>
<rect x="1032.22" y="593.9" width="3.25" height="18.6"/>
<rect x="1035.39" y="592.9" width="2.75" height="19.6"/>
<rect x="1038.85" y="590.9" width="3.25" height="21.6"/>
<rect x="1042.01" y="588.7" width="2.75" height="23.8"/>
<rect x="1045.47" y="587.5" width="3.25" height="25.0"/>
<rect x="1048.64" y="587.0" width="2.75" height="25.5"/>
<rect x="1052.10" y="586.5" width="3.25" height="26.0"/>
<rect x="1055.26" y="586.1" width="2.75" height="26.4"/>
<rect x="1058.72" y="585.1" width="3.25" height="27.4"/>
<rect x="1061.89" y="584.0" width="2.75" height="28.5"/>
<rect x="1065.35" y="582.9" width="3.25" height="29.6"/>
<rect x="1068.51" y="582.8" width="2.75" height="29.7"/>
<rect x="1071.97" y="582.8" width="3.25" height="29.7"/>
<rect x="1075.14" y="582.8" width="2.75" height="29.7"/>
<rect x="1078.60" y="583.2" width="3.25" height="29.3"/>
<rect x="1081.76" y="583.6" width="2.75" height="28.9"/>
<rect x="1085.22" y="584.0" width="3.25" height="28.5"/>
<rect x="1088.39" y="586.6" width="2.75" height="25.9"/>
<rect x="1091.85" y="589.4" width="3.25" height="23.1"/>
<rect x="1095.01" y="592.2" width="2.75" height="20.3"/>
<rect x="1098.47" y="594.9" width="3.25" height="17.6"/>
<rect x="1101.64" y="597.1" width="2.75" height="15.4"/>
<rect x="1105.10" y="598.8" width="3.25" height="13.7"/>
<rect x="1108.26" y="600.3" width="2.75" height="12.2"/>
<rect x="1111.72" y="601.4" width="3.25" height="11.1"/>
<rect x="1114.89" y="602.5" width="2.75" height="10.0"/>
<rect x="1118.35" y="604.2" width="3.25" height="8.3"/>
<rect x="1121.51" y="605.8" width="2.75" height="6.7"/>
<rect x="1124.97" y="607.5" width="3.25" height="5.0"/>
<rect x="1128.14" y="609.2" width="2.75" height="3.3"/>
<rect x="1131.60" y="610.3" width="3.25" height="2.2"/>
</g>
<path d="M57 685H1159.5" stroke="#5c5cff" stroke-width="2" fill="none"/>
<path d="M57 697.5H1159.5" stroke="#0000e8" stroke-width="1" fill="none"/>
<path d="M51 749H1159.5" stroke="#5c5cff" stroke-width="2" fill="none"/>
<path d="M57 761.5H1159.5" stroke="#0000e8" stroke-width="1" fill="none"/>
<path d="M58.6 709.5 L63.5 700.6 L66.7 700.6 L70.9 705.0 L74.6 705.5 L77.0 709.5 L83.2 706.3 L89.3 709.5 L93.0 721.0 L96.7 723.5 L99.2 716.8 L101.6 720.3 L106.6 714.1 L112.7 714.9 L115.9 724.7 L120.1 714.9 L122.0 708.0 L126.2 712.9 L132.4 704.6 L139.7 704.3 L143.4 705.0 L149.6 696.9 L153.3 696.9 L159.4 707.0 L163.1 707.0 L169.3 700.6 L172.9 707.5 L175.4 722.3 L184.7 723.5 L191.4 711.2 L195.1 709.5 L198.8 711.9 L202.4 710.0 L205.4 705.0 L209.8 713.7 L212.3 724.7 L217.2 734.6 L222.1 736.5 L225.1 725.9 L229.5 725.2 L234.4 719.8 L238.1 721.8 L243.0 737.0 L247.9 740.2 L251.6 735.8 L255.3 746.4 L259.0 742.4 L263.9 741.4 L268.8 735.0 L273.8 737.7 L278.7 734.1 L281.1 740.7 L284.8 739.5 L288.5 740.7 L292.2 731.6 L295.9 734.1 L300.8 728.4 L306.9 711.9 L310.6 715.4 L315.1 716.1 L320.5 730.1 L325.4 730.1 L331.5 737.0 L335.2 738.2 L337.7 742.4 L340.0 735.0 L343.7 737.5 L349.8 730.1 L354.8 730.1 L358.4 723.5 L362.1 722.3 L364.6 717.8 L368.3 717.8 L374.4 728.4 L379.3 740.7 L383.0 747.3 L387.9 749.8 L391.6 749.8 L395.3 737.7 L400.2 741.4 L405.2 738.7 L408.4 738.2 L411.3 728.4 L415.0 730.9 L418.7 740.7 L421.1 748.1 L426.1 748.1 L431.0 741.9 L434.7 742.4 L438.4 745.6 L440.8 744.9 L444.5 732.6 L447.7 732.1 L451.1 738.2 L456.8 738.7 L460.5 748.1 L464.2 751.0 L467.4 738.7 L470.3 738.7 L474.7 748.1 L477.7 750.5 L482.6 743.2 L487.5 735.0 L490.5 735.8 L494.9 722.8 L498.6 721.8 L502.3 717.8 L504.7 718.6 L507.7 722.8 L510.1 717.8 L514.6 719.8 L520.7 719.8 L524.4 716.8 L527.4 707.0 L530.6 709.2 L536.2 709.2 L540.4 720.3 L546.0 720.3 L550.2 723.0 L553.9 719.8 L556.9 720.3 L560.6 729.1 L566.2 725.9 L569.9 727.9 L576.0 717.3 L581.0 710.0 L583.4 708.7 L586.6 725.9 L589.6 727.2 L593.3 755.0 L596.9 745.6 L600.6 743.9 L610.0 743.7 L612.9 753.7 L616.6 753.0 L619.8 743.2 L624.0 741.9 L626.5 735.0 L630.0 734.1 L634.9 733.3 L639.8 733.3 L644.8 737.0 L652.1 742.7 L655.8 742.7 L659.5 727.2 L663.2 727.2 L666.4 743.7 L670.6 743.7 L673.0 738.7 L676.2 745.6 L682.9 737.0 L686.6 738.2 L689.5 742.7 L695.2 736.3 L700.1 735.8 L703.8 732.1 L709.9 727.9 L723.4 728.4 L727.1 734.6 L729.1 725.5 L732.0 735.0 L736.2 735.0 L739.4 729.1 L743.1 734.1 L746.8 735.0 L752.9 739.5 L756.6 740.2 L762.8 750.0 L766.5 737.7 L769.7 732.6 L772.1 737.0 L776.3 730.9 L780.0 735.3 L783.7 735.8 L788.6 729.6 L793.5 728.9 L797.2 727.2 L800.1 728.4 L805.8 718.6 L809.5 717.3 L814.4 710.0 L818.1 707.5 L823.0 708.7 L827.9 707.5 L830.4 713.7 L832.9 723.5 L837.8 730.9 L845.1 730.9 L848.8 740.0 L852.5 743.2 L855.0 737.0 L859.9 750.5 L862.4 755.0 L866.0 757.9 L868.5 759.9 L872.2 746.8 L875.4 741.9 L878.3 744.9 L881.3 743.7 L885.7 751.0 L890.6 753.0 L895.6 753.7 L898.5 746.8 L901.7 745.6 L905.4 747.6 L911.5 739.5 L915.2 742.4 L920.0 739.0 L924.9 735.0 L931.1 744.4 L937.7 744.4 L943.4 734.6 L949.0 734.1 L953.2 718.6 L958.1 706.3 L961.8 705.0 L969.2 705.5 L975.3 712.4 L978.3 716.6 L981.5 711.2 L984.4 714.9 L988.8 709.5 L991.8 708.2 L993.8 711.9 L999.9 711.2 L1004.8 713.7 L1008.0 701.4 L1013.4 700.1 L1018.4 712.4 L1023.3 708.7 L1028.2 702.1 L1034.3 701.9 L1038.5 692.3 L1041.7 692.3 L1044.2 696.4 L1049.1 694.0 L1056.5 694.7 L1061.4 686.6 L1067.5 686.6 L1071.2 691.5 L1074.4 697.7 L1078.6 691.5 L1081.8 691.5 L1086.0 698.9 L1090.9 722.3 L1094.1 717.3 L1097.5 724.7 L1101.5 721.8 L1108.1 724.7 L1111.3 716.1 L1114.2 721.8 L1117.9 722.3 L1122.1 725.9 L1127.8 732.6 L1130.2 729.6 L1133.9 729.1" fill="none" stroke="#ff0000" stroke-width="2" stroke-linejoin="round" stroke-linecap="round" />
<rect x="4" y="569" width="1211" height="1.5" fill="#6e6e6e"/><rect x="4" y="570.5" width="1211" height="1" fill="#d8d8d8"/>
<rect x="4" y="671.5" width="1211" height="1.5" fill="#6e6e6e"/><rect x="4" y="673" width="1211" height="1" fill="#d8d8d8"/>
<g font-family="Liberation Sans, Arial, sans-serif" font-weight="bold" font-size="12px" fill="#000">
<text x="49.5" y="542.9" text-anchor="end" textLength="43" lengthAdjust="spacingAndGlyphs">125 000</text>
<text x="1167.5" y="542.9" textLength="43" lengthAdjust="spacingAndGlyphs">125 000</text>
<text x="49.5" y="529.0" text-anchor="end" textLength="43" lengthAdjust="spacingAndGlyphs">126 000</text>
<text x="1167.5" y="529.0" textLength="43" lengthAdjust="spacingAndGlyphs">126 000</text>
<text x="49.5" y="515.1" text-anchor="end" textLength="43" lengthAdjust="spacingAndGlyphs">127 000</text>
<text x="1167.5" y="515.1" textLength="43" lengthAdjust="spacingAndGlyphs">127 000</text>
<text x="49.5" y="501.3" text-anchor="end" textLength="43" lengthAdjust="spacingAndGlyphs">128 000</text>
<text x="1167.5" y="501.3" textLength="43" lengthAdjust="spacingAndGlyphs">128 000</text>
<text x="49.5" y="487.4" text-anchor="end" textLength="43" lengthAdjust="spacingAndGlyphs">129 000</text>
<text x="1167.5" y="487.4" textLength="43" lengthAdjust="spacingAndGlyphs">129 000</text>
<text x="49.5" y="473.5" text-anchor="end" textLength="43" lengthAdjust="spacingAndGlyphs">130 000</text>
<text x="1167.5" y="473.5" textLength="43" lengthAdjust="spacingAndGlyphs">130 000</text>
<text x="49.5" y="459.7" text-anchor="end" textLength="43" lengthAdjust="spacingAndGlyphs">131 000</text>
<text x="1167.5" y="459.7" textLength="43" lengthAdjust="spacingAndGlyphs">131 000</text>
<text x="49.5" y="445.8" text-anchor="end" textLength="43" lengthAdjust="spacingAndGlyphs">132 000</text>
<text x="1167.5" y="445.8" textLength="43" lengthAdjust="spacingAndGlyphs">132 000</text>
<text x="49.5" y="431.9" text-anchor="end" textLength="43" lengthAdjust="spacingAndGlyphs">133 000</text>
<text x="1167.5" y="431.9" textLength="43" lengthAdjust="spacingAndGlyphs">133 000</text>
<text x="49.5" y="418.1" text-anchor="end" textLength="43" lengthAdjust="spacingAndGlyphs">134 000</text>
<text x="1167.5" y="418.1" textLength="43" lengthAdjust="spacingAndGlyphs">134 000</text>
<text x="49.5" y="404.2" text-anchor="end" textLength="43" lengthAdjust="spacingAndGlyphs">135 000</text>
<text x="1167.5" y="404.2" textLength="43" lengthAdjust="spacingAndGlyphs">135 000</text>
<text x="49.5" y="390.3" text-anchor="end" textLength="43" lengthAdjust="spacingAndGlyphs">136 000</text>
<text x="1167.5" y="390.3" textLength="43" lengthAdjust="spacingAndGlyphs">136 000</text>
<text x="49.5" y="376.5" text-anchor="end" textLength="43" lengthAdjust="spacingAndGlyphs">137 000</text>
<text x="1167.5" y="376.5" textLength="43" lengthAdjust="spacingAndGlyphs">137 000</text>
<text x="49.5" y="362.6" text-anchor="end" textLength="43" lengthAdjust="spacingAndGlyphs">138 000</text>
<text x="1167.5" y="362.6" textLength="43" lengthAdjust="spacingAndGlyphs">138 000</text>
<text x="49.5" y="348.7" text-anchor="end" textLength="43" lengthAdjust="spacingAndGlyphs">139 000</text>
<text x="1167.5" y="348.7" textLength="43" lengthAdjust="spacingAndGlyphs">139 000</text>
<text x="49.5" y="334.9" text-anchor="end" textLength="43" lengthAdjust="spacingAndGlyphs">140 000</text>
<text x="1167.5" y="334.9" textLength="43" lengthAdjust="spacingAndGlyphs">140 000</text>
<text x="49.5" y="321.0" text-anchor="end" textLength="43" lengthAdjust="spacingAndGlyphs">141 000</text>
<text x="1167.5" y="321.0" textLength="43" lengthAdjust="spacingAndGlyphs">141 000</text>
<text x="49.5" y="307.1" text-anchor="end" textLength="43" lengthAdjust="spacingAndGlyphs">142 000</text>
<text x="1167.5" y="307.1" textLength="43" lengthAdjust="spacingAndGlyphs">142 000</text>
<text x="49.5" y="293.3" text-anchor="end" textLength="43" lengthAdjust="spacingAndGlyphs">143 000</text>
<text x="1167.5" y="293.3" textLength="43" lengthAdjust="spacingAndGlyphs">143 000</text>
<text x="49.5" y="279.4" text-anchor="end" textLength="43" lengthAdjust="spacingAndGlyphs">144 000</text>
<text x="1167.5" y="279.4" textLength="43" lengthAdjust="spacingAndGlyphs">144 000</text>
<text x="49.5" y="265.5" text-anchor="end" textLength="43" lengthAdjust="spacingAndGlyphs">145 000</text>
<text x="1167.5" y="265.5" textLength="43" lengthAdjust="spacingAndGlyphs">145 000</text>
<text x="49.5" y="251.7" text-anchor="end" textLength="43" lengthAdjust="spacingAndGlyphs">146 000</text>
<text x="1167.5" y="251.7" textLength="43" lengthAdjust="spacingAndGlyphs">146 000</text>
<text x="49.5" y="237.8" text-anchor="end" textLength="43" lengthAdjust="spacingAndGlyphs">147 000</text>
<text x="1167.5" y="237.8" textLength="43" lengthAdjust="spacingAndGlyphs">147 000</text>
<text x="49.5" y="223.9" text-anchor="end" textLength="43" lengthAdjust="spacingAndGlyphs">148 000</text>
<text x="1167.5" y="223.9" textLength="43" lengthAdjust="spacingAndGlyphs">148 000</text>
<text x="49.5" y="210.1" text-anchor="end" textLength="43" lengthAdjust="spacingAndGlyphs">149 000</text>
<text x="1167.5" y="210.1" textLength="43" lengthAdjust="spacingAndGlyphs">149 000</text>
<text x="49.5" y="196.2" text-anchor="end" textLength="43" lengthAdjust="spacingAndGlyphs">150 000</text>
<text x="1167.5" y="196.2" textLength="43" lengthAdjust="spacingAndGlyphs">150 000</text>
<text x="49.5" y="182.3" text-anchor="end" textLength="43" lengthAdjust="spacingAndGlyphs">151 000</text>
<text x="1167.5" y="182.3" textLength="43" lengthAdjust="spacingAndGlyphs">151 000</text>
<text x="49.5" y="168.4" text-anchor="end" textLength="43" lengthAdjust="spacingAndGlyphs">152 000</text>
<text x="1167.5" y="168.4" textLength="43" lengthAdjust="spacingAndGlyphs">152 000</text>
<text x="49.5" y="154.6" text-anchor="end" textLength="43" lengthAdjust="spacingAndGlyphs">153 000</text>
<text x="1167.5" y="154.6" textLength="43" lengthAdjust="spacingAndGlyphs">153 000</text>
<text x="49.5" y="140.7" text-anchor="end" textLength="43" lengthAdjust="spacingAndGlyphs">154 000</text>
<text x="1167.5" y="140.7" textLength="43" lengthAdjust="spacingAndGlyphs">154 000</text>
<text x="49.5" y="126.8" text-anchor="end" textLength="43" lengthAdjust="spacingAndGlyphs">155 000</text>
<text x="1167.5" y="126.8" textLength="43" lengthAdjust="spacingAndGlyphs">155 000</text>
<text x="49.5" y="113.0" text-anchor="end" textLength="43" lengthAdjust="spacingAndGlyphs">156 000</text>
<text x="1167.5" y="113.0" textLength="43" lengthAdjust="spacingAndGlyphs">156 000</text>
<text x="49.5" y="99.1" text-anchor="end" textLength="43" lengthAdjust="spacingAndGlyphs">157 000</text>
<text x="1167.5" y="99.1" textLength="43" lengthAdjust="spacingAndGlyphs">157 000</text>
<text x="49.5" y="85.2" text-anchor="end" textLength="43" lengthAdjust="spacingAndGlyphs">158 000</text>
<text x="1167.5" y="85.2" textLength="43" lengthAdjust="spacingAndGlyphs">158 000</text>
<text x="49.5" y="71.4" text-anchor="end" textLength="43" lengthAdjust="spacingAndGlyphs">159 000</text>
<text x="1167.5" y="71.4" textLength="43" lengthAdjust="spacingAndGlyphs">159 000</text>
<text x="49.5" y="57.5" text-anchor="end" textLength="43" lengthAdjust="spacingAndGlyphs">160 000</text>
<text x="1167.5" y="57.5" textLength="43" lengthAdjust="spacingAndGlyphs">160 000</text>
<text x="49.5" y="43.6" text-anchor="end" textLength="43" lengthAdjust="spacingAndGlyphs">161 000</text>
<text x="1167.5" y="43.6" textLength="43" lengthAdjust="spacingAndGlyphs">161 000</text>
<text x="49.5" y="29.8" text-anchor="end" textLength="43" lengthAdjust="spacingAndGlyphs">162 000</text>
<text x="1167.5" y="29.8" textLength="43" lengthAdjust="spacingAndGlyphs">162 000</text>
<text x="49.5" y="15.9" text-anchor="end" textLength="43" lengthAdjust="spacingAndGlyphs">163 000</text>
<text x="1167.5" y="15.9" textLength="43" lengthAdjust="spacingAndGlyphs">163 000</text>
</g>
<rect x="1166.5" y="334.5" width="47" height="12" fill="#fff" stroke="#8484ff" stroke-width="1" shape-rendering="crispEdges"/>
<text x="1169" y="345" font-family="Liberation Sans, Arial, sans-serif" font-weight="bold" font-size="12px" textLength="43" lengthAdjust="spacingAndGlyphs">139 240</text>
<g font-family="Liberation Sans, Arial, sans-serif" font-weight="bold" font-size="11.5px" fill="#0000ff" text-anchor="end">
<text x="137" y="59.7">100%</text>
<text x="137" y="230.4">61.8%</text>
<text x="137" y="283.1">50%</text>
<text x="137" y="335.8">38.2%</text>
<text x="137" y="401.1">23.6%</text>
<text x="137" y="506.5">0%</text>
</g>
<g font-family="Liberation Sans, Arial, sans-serif" font-weight="bold" font-size="12px" fill="#000">
<text x="49.5" y="597.8" text-anchor="end">1</text>
<text x="1167.5" y="597.8">1</text>
<text x="49.5" y="615.9" text-anchor="end">0</text>
<text x="1167.5" y="615.9">0</text>
<text x="49.5" y="634.0" text-anchor="end">-1</text>
<text x="1167.5" y="634.0">-1</text>
<text x="49.5" y="652.1" text-anchor="end">-2</text>
<text x="1167.5" y="652.1">-2</text>
<text x="49.5" y="766.0" text-anchor="end">20</text>
<text x="49.5" y="753.2" text-anchor="end">30</text>
<text x="49.5" y="740.4" text-anchor="end">40</text>
<text x="1167.5" y="740.4">40</text>
<text x="49.5" y="727.6" text-anchor="end">50</text>
<text x="1167.5" y="727.6">50</text>
<text x="49.5" y="714.8" text-anchor="end">60</text>
<text x="1167.5" y="714.8">60</text>
<text x="49.5" y="702.0" text-anchor="end">70</text>
<text x="49.5" y="689.2" text-anchor="end">80</text>
</g>
<g font-family="Liberation Sans, Arial, sans-serif" font-weight="bold" font-size="12px" fill="#ff0000">
<rect x="1166.5" y="679.5" width="17" height="12.0" fill="#fff" stroke="#8484ff" stroke-width="1" shape-rendering="crispEdges"/>
<text x="1168.5" y="689.9">80</text>
<rect x="1166.5" y="691.5" width="17" height="12.0" fill="#fff" stroke="#8484ff" stroke-width="1" shape-rendering="crispEdges"/>
<text x="1168.5" y="701.9">70</text>
<rect x="1166.5" y="742.5" width="17" height="12.0" fill="#fff" stroke="#8484ff" stroke-width="1" shape-rendering="crispEdges"/>
<text x="1168.5" y="752.9">30</text>
<rect x="1166.5" y="754.5" width="17" height="13.0" fill="#fff" stroke="#8484ff" stroke-width="1" shape-rendering="crispEdges"/>
<text x="1168.5" y="765.4">20</text>
<rect x="1166.5" y="723.5" width="52" height="12" fill="#fff" stroke="#8484ff" stroke-width="1" shape-rendering="crispEdges"/>
<text x="1168.5" y="734">45,57907</text>
<rect x="1215" y="700" width="5" height="60" fill="#f4f4f4"/>
</g>
<g font-family="Liberation Sans, Arial, sans-serif" font-weight="bold" font-size="11px" fill="#000">
<path d="M25.5 561.5H39" stroke="#000" stroke-width="1.2"/>
<text x="49" y="565.3" textLength="67" lengthAdjust="spacingAndGlyphs">RIM3 [Price]</text>
<path d="M141.5 561.5H155.5" stroke="#7f7f7f" stroke-width="1.6"/>
<text x="164" y="565.3" textLength="127" lengthAdjust="spacingAndGlyphs">RIM3 [Moving Average]</text>
<path d="M316.5 561.5H331" stroke="#0000ff" stroke-width="2.2"/>
<text x="339.5" y="565.3" textLength="127" lengthAdjust="spacingAndGlyphs">RIM3 [Moving Average]</text>
<path d="M25 663H40" stroke="#0000ff" stroke-width="2.4"/>
<text x="49" y="667" textLength="72" lengthAdjust="spacingAndGlyphs">RIM3 [MACD]</text>
<path d="M25 780.5H40" stroke="#ff0000" stroke-width="1.8"/>
<text x="49" y="784.6" textLength="59" lengthAdjust="spacingAndGlyphs">RIM3 [RSI]</text>
</g>
<g shape-rendering="crispEdges" stroke="#8484ff" stroke-width="1" fill="none">
<path d="M57.5 790V818M57 790.5H1160M57 804.5H1160M57 818.5H1160"/>
<path d="M90.5 790V804"/>
<path d="M143.5 790V804"/>
<path d="M196.5 790V804"/>
<path d="M249.5 790V804"/>
<path d="M302.5 790V804"/>
<path d="M355.5 790V804"/>
<path d="M408.5 790V804"/>
<path d="M461.5 790V804"/>
<path d="M514.5 790V804"/>
<path d="M567.5 790V804"/>
<path d="M620.5 790V804"/>
<path d="M673.5 790V804"/>
<path d="M726.5 790V804"/>
<path d="M779.5 790V804"/>
<path d="M832.5 790V804"/>
<path d="M885.5 790V804"/>
<path d="M938.5 790V804"/>
<path d="M991.5 790V804"/>
<path d="M1044.5 790V804"/>
<path d="M1097.5 790V804"/>
<path d="M196.5 804V818"/>
<path d="M461.5 804V818"/>
<path d="M727.5 804V818"/>
<path d="M1019.5 804V818"/>
</g>
<g font-family="Liberation Sans, Arial, sans-serif" font-weight="bold" font-size="10.5px" fill="#000">
<text x="93.5" y="801">22</text>
<text x="146.5" y="801">28</text>
<text x="199.5" y="801">1</text>
<text x="252.5" y="801">7</text>
<text x="305.5" y="801">13</text>
<text x="358.5" y="801">19</text>
<text x="411.5" y="801">25</text>
<text x="464.5" y="801">1</text>
<text x="517.5" y="801">7</text>
<text x="570.5" y="801">14</text>
<text x="623.5" y="801">20</text>
<text x="676.5" y="801">26</text>
<text x="729.5" y="801">1</text>
<text x="782.5" y="801">5</text>
<text x="835.5" y="801">11</text>
<text x="888.5" y="801">17</text>
<text x="941.5" y="801">23</text>
<text x="994.5" y="801">29</text>
<text x="1047.5" y="801">6</text>
<text x="1100.5" y="801">13</text>
<text x="199.5" y="814.7">Feb</text>
<text x="464.5" y="814.7">Mar</text>
<text x="730.5" y="814.7">Apr</text>
<text x="1022.5" y="814.7">May</text>
</g>
<rect x="0" y="825" width="1220" height="28" fill="#3b3b3b"/>
<text x="10" y="843.3" font-family="DejaVu Sans, Verdana, sans-serif" font-size="12px" fill="#f2f2f2" textLength="249" lengthAdjust="spacing">Элитный Трейдер, ELITETRADER.RU</text>
<defs><linearGradient id="ga" x1="0" y1="0" x2="0" y2="1"><stop offset="0" stop-color="#c8f060"/><stop offset="0.6" stop-color="#5a9a10"/><stop offset="1" stop-color="#2a5a00"/></linearGradient>
<linearGradient id="gb" x1="0" y1="0" x2="0" y2="1"><stop offset="0" stop-color="#ffc020"/><stop offset="1" stop-color="#e03010"/></linearGradient>
<radialGradient id="gc" cx="0.4" cy="0.35" r="0.75"><stop offset="0" stop-color="#ffd040"/><stop offset="0.6" stop-color="#ff9010"/><stop offset="1" stop-color="#e04060"/></radialGradient></defs>
<path d="M1105 829.3L1113.2 838.5H1108.8V845.5H1103.5V838.5H1097.3Z" fill="url(#ga)"/>
<rect x="1096" y="840.5" width="8.5" height="5.2" fill="url(#gb)"/>
<g font-family="Liberation Sans, Arial, sans-serif" font-weight="bold" font-size="16.5px">
<text x="1116.5" y="843.6" fill="#fff" textLength="24.5" lengthAdjust="spacingAndGlyphs">clip</text>
<circle cx="1147.1" cy="838.6" r="7.8" fill="url(#gc)"/>
<text x="1147.2" y="844" fill="#fff" text-anchor="middle" font-size="15px">2</text>
<text x="1154.8" y="843.6" fill="#fff" textLength="20.5" lengthAdjust="spacingAndGlyphs">net</text>
<text x="1176.5" y="843.6" fill="#8a9090" textLength="34.5" lengthAdjust="spacingAndGlyphs">.com</text>
</g>
</svg>
</body></html>
